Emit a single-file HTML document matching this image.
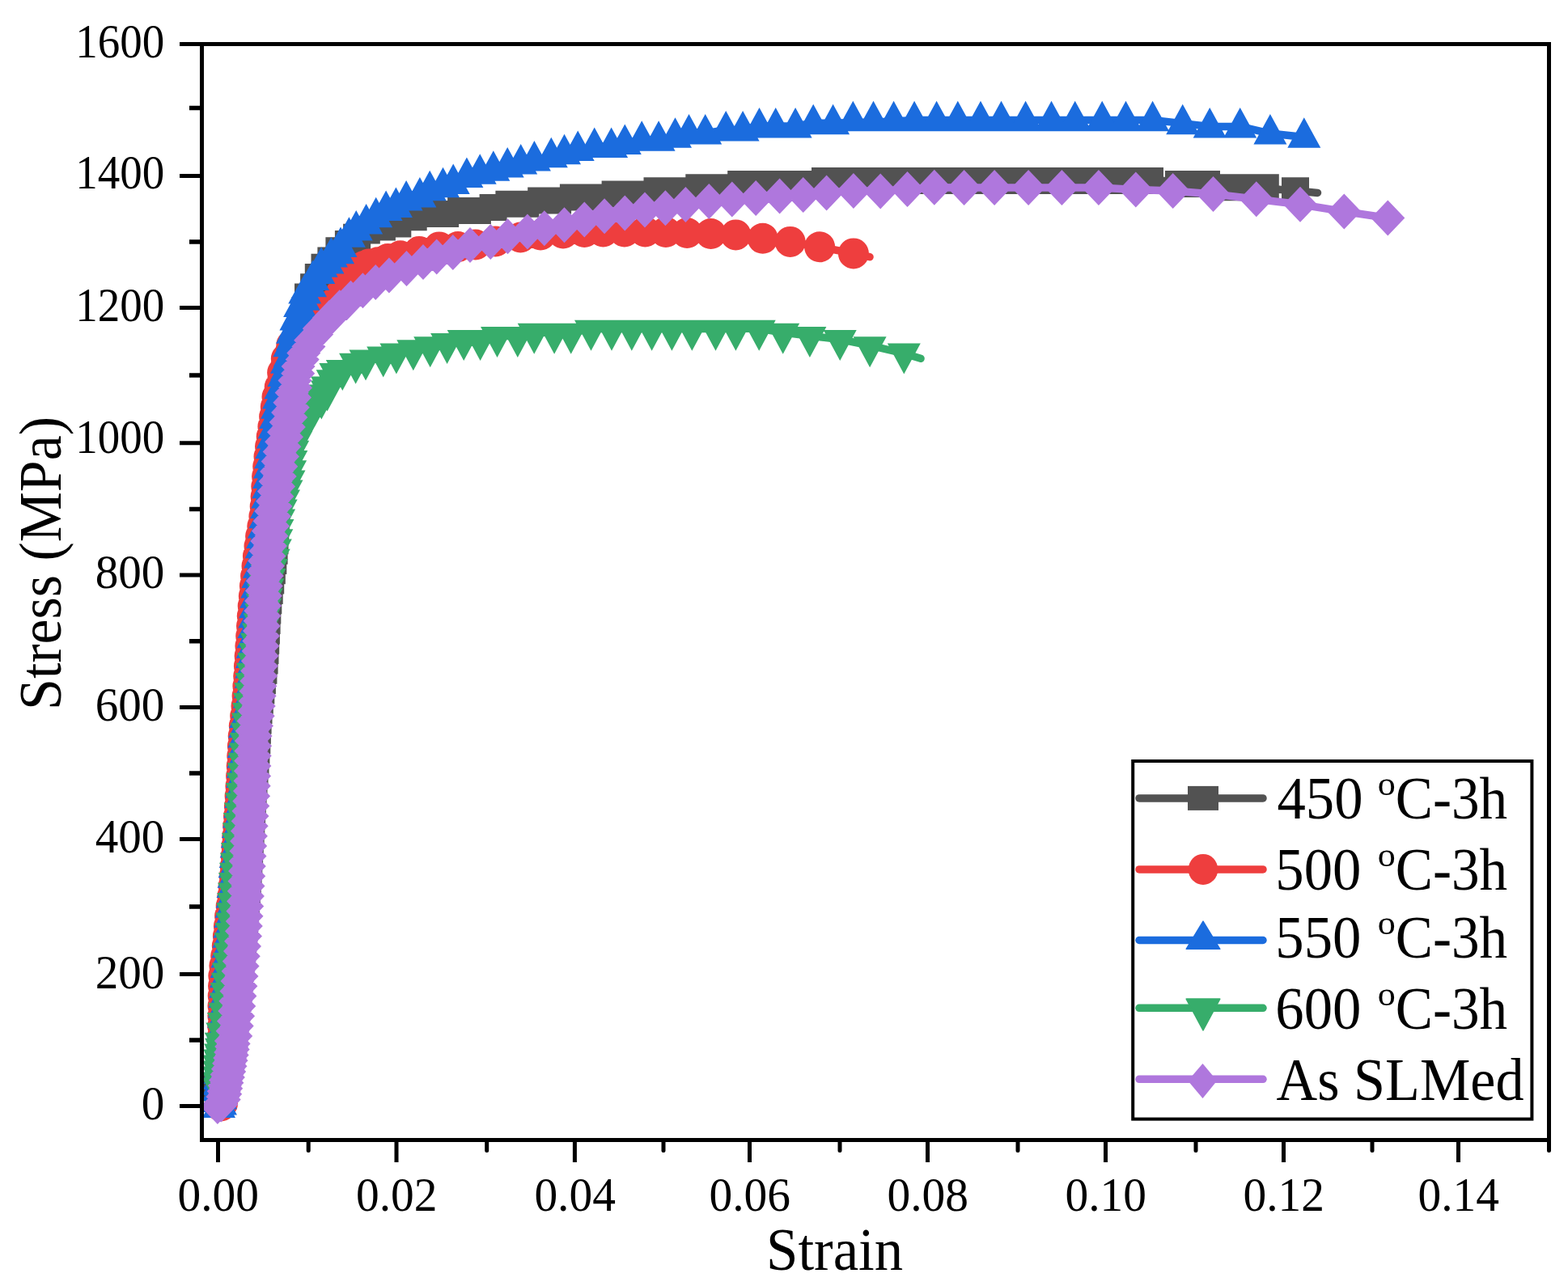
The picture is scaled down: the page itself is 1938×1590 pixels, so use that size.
<!DOCTYPE html>
<html><head><meta charset="utf-8"><title>Stress-strain curves</title>
<style>html,body{margin:0;padding:0;background:#fff;width:1938px;height:1590px;overflow:hidden}svg{display:block}</style>
</head><body>
<svg width="1938" height="1590" viewBox="0 0 1938 1590" font-family="'Liberation Serif','Times New Roman',serif" fill="#000">
<rect width="1938" height="1590" fill="#fff"/>
<g stroke-linejoin="round" stroke-linecap="round">
<path d="M271,1345L271.4,1343L271.8,1341.1L272.2,1339.1L272.6,1337.1L273,1335.2L273.4,1333.2L273.7,1331.3L274.1,1329.3L274.5,1327.3L274.9,1325.4L275.3,1323.4L275.7,1321.4L276.1,1319.5L276.5,1317.5L276.9,1315.5L277.3,1313.6L277.7,1311.6L278.1,1309.7L278.5,1307.7L279,1305.7L279.4,1303.8L279.8,1301.8L280.2,1299.8L280.5,1297.9L280.9,1295.9L281.3,1293.9L281.7,1292L282,1290L282.3,1288L282.7,1286.1L283,1284.1L283.3,1282.1L283.6,1280.1L283.9,1278.2L284.3,1276.2L284.6,1274.2L284.9,1272.2L285.2,1270.2L285.5,1268.2L285.7,1266.3L286,1264.3L286.3,1262.3L286.6,1260.3L286.9,1258.3L287.1,1256.3L287.4,1254.4L287.7,1252.4L287.9,1250.4L288.2,1248.4L288.5,1246.4L288.7,1244.4L289,1242.4L289.2,1240.5L289.5,1238.5L289.8,1236.5L290,1234.5L290.2,1232.5L290.5,1230.5L290.7,1228.5L291,1226.5L291.2,1224.6L291.4,1222.6L291.7,1220.6L291.9,1218.6L292.1,1216.6L292.4,1214.6L292.6,1212.6L292.8,1210.6L293,1208.6L293.3,1206.6L293.5,1204.7L293.7,1202.7L293.9,1200.7L294.1,1198.7L294.4,1196.7L294.6,1194.7L294.8,1192.7L295,1190.7L295.2,1188.7L295.4,1186.7L295.6,1184.7L295.8,1182.8L296,1180.8L296.2,1178.8L296.4,1176.8L296.6,1174.8L296.8,1172.8L297,1170.8L297.2,1168.8L297.4,1166.8L297.6,1164.8L297.8,1162.8L298,1160.8L298.2,1158.8L298.4,1156.8L298.6,1154.8L298.7,1152.8L298.9,1150.9L299.1,1148.9L299.3,1146.9L299.5,1144.9L299.6,1142.9L299.8,1140.9L300,1138.9L300.1,1136.9L300.3,1134.9L300.5,1132.9L300.6,1130.9L300.8,1128.9L301,1126.9L301.1,1124.9L301.3,1122.9L301.4,1120.9L301.6,1118.9L301.7,1116.9L301.9,1114.9L302.1,1112.9L302.2,1110.9L302.4,1108.9L302.5,1106.9L302.6,1104.9L302.8,1102.9L302.9,1100.9L303.1,1098.9L303.2,1096.9L303.4,1094.9L303.5,1092.9L303.6,1090.9L303.8,1088.9L303.9,1087L304,1085L304.2,1083L304.3,1081L304.4,1079L304.5,1077L304.7,1075L304.8,1073L304.9,1071L305,1069L305.2,1067L305.3,1065L305.4,1063L305.5,1061L305.7,1059L305.8,1057L305.9,1055L306,1053L306.1,1051L306.3,1049L306.4,1047L306.5,1045L306.6,1043L306.8,1041L306.9,1039L307,1037L307.1,1035L307.2,1033L307.4,1031L307.5,1029L307.6,1027L307.7,1025L307.9,1023L308,1021L308.1,1019L308.2,1017L308.3,1015L308.4,1013L308.6,1011L308.7,1009L308.8,1007L308.9,1005L309,1003L309.2,1001L309.3,999L309.4,997L309.5,995L309.6,993L309.8,991L309.9,989L310,987L310.1,985L310.3,983L310.4,981L310.5,979L310.7,977L310.8,975L310.9,973L311.1,971L311.2,969L311.4,967L311.5,965L311.7,963L311.8,961L312,959L312.1,957L312.3,955L312.4,953L312.6,951L312.8,949L312.9,947L313.1,945L313.3,943L313.4,941L313.6,939.1L313.8,937.1L313.9,935.1L314.1,933.1L314.2,931.1L314.4,929.1L314.5,927.1L314.7,925.1L314.8,923.1L314.9,921.1L315.1,919.1L315.2,917.1L315.3,915.1L315.4,913.1L315.5,911.1L315.6,909.1L315.7,907.1L315.8,905.1L315.9,903.1L316,901.1L316.1,899.1L316.2,897.1L316.4,895.1L316.5,893.1L316.6,891.1L316.7,889.1L316.8,887.1L317,885.1L317.1,883.1L317.3,881.1L317.5,879.1L317.7,877.1L317.8,875.1L318,873.1L318.3,871.1L318.5,869.1L318.7,867.1L318.9,865.2L319.2,863.2L319.4,861.2L319.7,859.2L319.9,857.2L320.2,855.2L320.4,853.2L320.7,851.2L321,849.2L321.2,847.3L321.5,845.3L321.7,843.3L322,841.3L322.2,839.3L322.5,837.3L322.7,835.3L323,833.3L323.2,831.3L323.4,829.4L323.6,827.4L323.8,825.4L324,823.4L324.2,821.4L324.4,819.4L324.6,817.4L324.7,815.4L324.9,813.4L325,811.4L325.2,809.4L325.3,807.4L325.4,805.4L325.6,803.4L325.7,801.4L325.8,799.4L325.9,797.4L326,795.4L326.1,793.4L326.3,791.4L326.4,789.4L326.5,787.4L326.6,785.4L326.7,783.4L326.8,781.4L326.9,779.4L327,777.4L327.1,775.4L327.2,773.4L327.3,771.4L327.4,769.4L327.6,767.4L327.7,765.4L327.8,763.4L327.9,761.4L328.1,759.4L328.2,757.4L328.3,755.4L328.5,753.4L328.6,751.4L328.8,749.4L328.9,747.4L329.1,745.4L329.3,743.4L329.5,741.5L329.7,739.5L329.9,737.5L330.1,735.5L330.3,733.5L330.5,731.5L330.8,729.5L331,727.5L331.3,725.5L331.5,723.5L331.8,721.6L332,719.6L332.3,717.6L332.5,715.6L332.8,713.6L333,711.6L333.3,709.6L333.6,707.6L333.8,705.6L334.1,703.7L334.3,701.7L334.6,699.7L334.8,697.7L335,695.7L335.3,693.7L335.5,691.7L335.7,689.7L335.9,687.7L336.2,685.7L336.4,683.8L336.5,681.8L336.7,679.8L336.9,677.8L337.1,675.8L337.2,673.8L337.3,671.8L337.5,669.8L337.6,667.8L337.7,665.8L337.8,663.8L338,661.8L338.1,659.8L338.2,657.8L338.3,655.8L338.4,653.8L338.4,651.8L338.5,649.8L338.6,647.8L338.7,645.8L338.8,643.8L338.9,641.8L339,639.8L339.1,637.8L339.2,635.8L339.3,633.8L339.4,631.8L339.5,629.8L339.6,627.8L339.7,625.8L339.8,623.8L339.9,621.8L340,619.8L340.1,617.8L340.3,615.8L340.4,613.8L340.5,611.8L340.7,609.8L340.8,607.8L340.9,605.8L341.1,603.8L341.2,601.8L341.4,599.8L341.5,597.8L341.7,595.8L341.8,593.8L342,591.8L342.2,589.8L342.3,587.8L342.5,585.8L342.7,583.8L342.8,581.8L343,579.8L343.2,577.8L343.4,575.8L343.6,573.9L343.8,571.9L344,569.9L344.1,567.9L344.3,565.9L344.6,563.9L344.8,561.9L345,559.9L345.2,557.9L345.4,555.9L345.6,553.9L345.8,551.9L346.1,549.9L346.3,547.9L346.5,545.9L346.8,544L347,542L347.3,540L347.5,538L347.8,536L348,534L348.3,532L348.6,530L348.8,528.1L349.1,526.1L349.4,524.1L349.7,522.1L350,520.1L350.3,518.2L350.6,516.2L350.9,514.2L351.3,512.3L351.6,510.3L352,508.3L352.4,506.4L352.7,504.4L353.1,502.4L353.5,500.5L353.9,498.5L354.4,496.5L354.8,494.6L355.2,492.6L355.6,490.7L356,488.7L356.5,486.7L356.9,484.8L357.3,482.8L357.7,480.9L358.2,478.9L358.6,476.9L359,475L359.4,473L359.8,471L360.2,469.1L360.6,467.1L361,465.2L361.4,463.2L361.8,461.2L362.1,459.3L362.5,457.3L362.9,455.3L363.3,453.4L363.7,451.4L364.1,449.4L364.5,447.5L364.9,445.5L365.3,443.5L365.7,441.6L366.1,439.6L366.5,437.7L366.9,435.7L367.2,433.7L367.6,431.8L368,429.8L368.4,427.8L368.8,425.9L369.2,423.9L369.6,421.9L370,420L370.4,418L370.8,416.1L371.2,414.1L371.5,412.1L371.9,410.1L372.3,408.2L372.7,406.2L373,404.2L373.4,402.3L373.8,400.3L374.2,398.3L374.5,396.4L374.9,394.4L375.3,392.4L375.7,390.5L376.1,388.5L376.5,386.5L377,384.6L377.4,382.6L377.9,380.7L378.3,378.7L378.8,376.8L379.3,374.8L379.7,372.9L380.3,370.9L380.8,369L381.4,367.1L382.1,365.3L383,363.5L384.1,361.8L385.2,360.2L386.5,358.6L387.7,356.9L388.9,355.3L389.9,353.6L390.8,351.8L391.6,350L392.3,348.1L392.9,346.1L393.6,344.2L394.3,342.4L395.2,340.6L396.2,338.9L397.3,337.3L398.5,335.7L399.8,334.1L401.1,332.6L402.4,331L403.7,329.5L404.9,327.9L406,326.2L407.1,324.5L408.2,322.7L409.2,320.9L410.3,319.2L411.5,317.6L412.7,316.1L414.1,314.8L415.6,313.6L417.2,312.5L418.9,311.4L420.7,310.4L422.5,309.4L424.2,308.3L425.9,307.2L427.5,306L429.1,304.8L430.7,303.4L432.2,302.1L433.7,300.7L435.2,299.2L436.6,297.8L438.1,296.4L439.6,295L441.1,293.6L442.6,292.3L444.2,291L445.7,289.8L447.3,288.7L449,287.7L450.7,286.9L452.5,286.1L454.3,285.4L456.2,284.8L458.2,284.2L460.1,283.6L462.1,283L464,282.5L465.9,281.9L467.8,281.4L469.8,280.8L471.7,280.3L473.6,279.8L475.6,279.3L477.5,278.7L479.4,278.2L481.4,277.7L483.3,277.2L485.3,276.7L487.2,276.3L489.2,275.8L491.1,275.3L493,274.8L495,274.3L496.9,273.9L498.9,273.4L500.8,272.9L502.8,272.4L504.7,271.9L506.7,271.5L508.6,271L510.6,270.5L512.5,270.1L514.5,269.6L516.4,269.2L518.4,268.8L520.3,268.4L522.3,268L524.3,267.6L526.2,267.2L528.2,266.8L530.2,266.4L532.1,266.1L534.1,265.8L536.1,265.5L538.1,265.2L540.1,265L542.1,264.7L544,264.5L546,264.3L548,264.1L550,263.9L552,263.7L554,263.5L556,263.4L558,263.2L560,263L562,262.8L564,262.7L566,262.5L568,262.4L570,262.2L572,262.1L574,261.9L576,261.8L578,261.6L580,261.4L582,261.2L584,261L585.9,260.7L587.9,260.4L589.9,260L591.8,259.5L593.8,259.1L595.7,258.6L597.7,258.2L599.7,257.8L601.6,257.4L603.6,257.1L605.6,256.8L607.6,256.5L609.6,256.3L611.5,256.1L613.5,255.9L615.5,255.7L617.5,255.5L619.5,255.3L621.5,255.1L623.5,254.8L625.5,254.5L627.5,254.3L629.5,254L631.4,253.7L633.4,253.4L635.4,253.1L637.4,252.9L639.4,252.6L641.4,252.4L643.4,252.2L645.3,252L647.3,251.8L649.3,251.6L651.3,251.4L653.3,251.2L655.3,251.1L657.3,250.9L659.3,250.8L661.3,250.6L663.3,250.5L665.3,250.3L667.3,250.2L669.3,250L671.3,249.9L673.3,249.7L675.3,249.5L677.3,249.3L679.3,249.2L681.3,249L683.3,248.7L685.3,248.5L687.2,248.3L689.2,248L691.2,247.8L693.2,247.5L695.2,247.2L697.2,246.9L699.1,246.6L701.1,246.3L703.1,246L705.1,245.7L707.1,245.4L709.1,245.1L711,244.8L713,244.6L715,244.3L717,244L719,243.8L721,243.6L723,243.4L725,243.1L726.9,242.9L728.9,242.7L730.9,242.5L732.9,242.3L734.9,242.1L736.9,241.9L738.9,241.8L740.9,241.6L742.9,241.4L744.9,241.2L746.9,241L748.9,240.9L750.9,240.7L752.9,240.5L754.9,240.3L756.9,240.2L758.9,240L760.9,239.9L762.9,239.7L764.9,239.6L766.9,239.4L768.8,239.3L770.8,239.1L772.8,239L774.8,238.9L776.8,238.7L778.8,238.6L780.8,238.5L782.8,238.3L784.8,238.2L786.8,238.1L788.8,238L790.8,237.9L792.8,237.7L794.8,237.6L796.8,237.5L798.8,237.4L800.8,237.3L802.8,237.1L804.8,237L806.8,236.9L808.8,236.7L810.8,236.6L812.8,236.5L814.8,236.3L816.8,236.2L818.8,236.1L820.8,235.9L822.8,235.8L824.8,235.6L826.8,235.4L828.8,235.3L830.8,235.1L832.8,234.9L834.8,234.7L836.8,234.5L838.8,234.3L840.8,234.1L842.8,233.9L844.8,233.7L846.7,233.5L848.7,233.3L850.7,233.1L852.7,232.9L854.7,232.7L856.7,232.5L858.7,232.4L860.7,232.2L862.7,232.1L864.7,231.9L866.7,231.8L868.7,231.6L870.7,231.5L872.7,231.4L874.7,231.3L876.7,231.2L878.7,231.1L880.7,231L882.7,230.9L884.7,230.8L886.7,230.7L888.7,230.6L890.7,230.5L892.7,230.4L894.7,230.3L896.7,230.2L898.7,230.1L900.7,230L902.7,229.8L904.7,229.7L906.7,229.5L908.7,229.3L910.7,229.2L912.7,229L914.7,228.8L916.7,228.6L918.7,228.5L920.7,228.3L922.7,228.1L924.7,228L926.7,227.8L928.7,227.7L930.7,227.6L932.7,227.6L934.7,227.5L936.7,227.5L938.7,227.4L940.7,227.4L942.7,227.4L944.7,227.4L946.7,227.4L948.7,227.3L950.7,227.3L952.7,227.3L954.7,227.3L956.7,227.3L958.7,227.3L960.7,227.3L962.7,227.2L964.7,227.2L966.7,227.2L968.7,227.2L970.7,227.2L972.7,227.2L974.7,227.2L976.7,227.2L978.7,227.1L980.7,227.1L982.7,227.1L984.7,227.1L986.7,227L988.7,227L990.7,227L992.7,226.9L994.7,226.8L996.7,226.7L998.7,226.6L1000.7,226.4L1002.7,226.2L1004.7,226L1006.7,225.8L1008.7,225.6L1010.7,225.4L1012.7,225.2L1014.7,225L1016.7,224.8L1018.7,224.5L1020.7,224.3L1022.7,224.2L1024.7,224L1026.7,223.8L1028.7,223.7L1030.7,223.6L1032.7,223.5L1034.7,223.5L1036.7,223.5L1038.7,223.5L1040.7,223.5L1042.7,223.5L1044.7,223.5L1046.7,223.5L1048.7,223.5L1050.7,223.5L1052.7,223.5L1054.7,223.5L1056.7,223.5L1058.7,223.5L1060.7,223.5L1062.7,223.5L1064.7,223.5L1066.7,223.5L1068.7,223.5L1070.7,223.5L1072.7,223.5L1074.7,223.5L1076.7,223.5L1078.7,223.5L1080.7,223.5L1082.7,223.5L1084.7,223.5L1086.7,223.5L1088.7,223.5L1090.7,223.5L1092.7,223.5L1094.7,223.5L1096.7,223.5L1098.7,223.5L1100.7,223.5L1102.7,223.5L1104.7,223.5L1106.7,223.5L1108.7,223.5L1110.8,223.5L1112.8,223.5L1114.8,223.5L1116.8,223.5L1118.8,223.5L1120.8,223.5L1122.8,223.5L1124.8,223.5L1126.8,223.5L1128.8,223.5L1130.8,223.5L1132.8,223.5L1134.8,223.5L1136.8,223.5L1138.8,223.5L1140.8,223.5L1142.8,223.5L1144.8,223.5L1146.8,223.5L1148.8,223.5L1150.8,223.5L1152.8,223.5L1154.8,223.5L1156.8,223.5L1158.8,223.5L1160.9,223.5L1162.9,223.5L1164.9,223.5L1166.9,223.5L1168.9,223.5L1170.9,223.5L1172.9,223.5L1174.9,223.5L1176.9,223.5L1178.9,223.5L1180.9,223.5L1182.9,223.5L1184.9,223.5L1186.9,223.5L1188.9,223.5L1190.9,223.5L1192.9,223.5L1194.9,223.5L1196.9,223.5L1198.9,223.5L1200.9,223.5L1202.9,223.5L1204.9,223.5L1206.9,223.5L1208.9,223.5L1210.9,223.5L1212.9,223.5L1214.9,223.5L1217,223.5L1219,223.5L1221,223.5L1223,223.5L1225,223.5L1227,223.5L1229,223.5L1231,223.5L1233,223.5L1235,223.5L1237,223.5L1239,223.5L1241,223.5L1243,223.5L1245,223.5L1247,223.5L1249,223.5L1251,223.5L1253,223.5L1255,223.5L1257.1,223.5L1259.1,223.5L1261.1,223.5L1263.1,223.5L1265.1,223.5L1267.1,223.5L1269.1,223.5L1271.1,223.5L1273.1,223.5L1275.1,223.5L1277.1,223.5L1279.1,223.5L1281.1,223.5L1283.1,223.5L1285.1,223.5L1287.1,223.5L1289.1,223.5L1291.2,223.5L1293.2,223.5L1295.2,223.5L1297.2,223.5L1299.2,223.5L1301.2,223.5L1303.2,223.5L1305.2,223.5L1307.2,223.5L1309.2,223.5L1311.2,223.5L1313.2,223.5L1315.2,223.5L1317.2,223.5L1319.2,223.5L1321.2,223.5L1323.2,223.5L1325.2,223.5L1327.3,223.5L1329.3,223.5L1331.3,223.5L1333.3,223.5L1335.3,223.5L1337.3,223.5L1339.3,223.5L1341.3,223.5L1343.3,223.5L1345.3,223.5L1347.3,223.5L1349.3,223.5L1351.3,223.5L1353.3,223.5L1355.3,223.5L1357.3,223.5L1359.3,223.5L1361.3,223.5L1363.3,223.5L1365.3,223.5L1367.3,223.5L1369.3,223.5L1371.3,223.5L1373.3,223.5L1375.3,223.5L1377.3,223.5L1379.3,223.5L1381.3,223.5L1383.3,223.5L1385.3,223.5L1387.3,223.5L1389.3,223.5L1391.3,223.5L1393.3,223.5L1395.3,223.5L1397.3,223.5L1399.3,223.5L1401.3,223.5L1403.3,223.5L1405.3,223.5L1407.3,223.5L1409.3,223.5L1411.3,223.5L1413.3,223.5L1415.3,223.5L1417.3,223.5L1419.3,223.5L1421.3,223.5L1423.3,223.5L1425.3,223.5L1427.3,223.5L1429.3,223.5L1431.3,223.5L1433.3,223.5L1435.3,223.5L1437.3,223.5L1439.3,223.5L1441.3,223.5L1443.3,223.6L1445.3,223.7L1447.2,223.9L1449.2,224.1L1451.2,224.3L1453.2,224.6L1455.2,224.9L1457.2,225.2L1459.2,225.5L1461.2,225.8L1463.1,226.2L1465.1,226.5L1467.1,226.8L1469.1,227.1L1471.1,227.3L1473.1,227.5L1475.1,227.7L1477.1,227.9L1479.1,228L1481.1,228.2L1483.1,228.3L1485.1,228.4L1487.1,228.6L1489,228.7L1491,228.8L1493,228.9L1495,229.1L1497,229.2L1499,229.3L1501,229.4L1503,229.5L1505,229.6L1507,229.7L1509,229.8L1511.1,229.9L1513.1,230L1515.1,230.1L1517.1,230.2L1519.1,230.3L1521.1,230.4L1523.1,230.5L1525.1,230.6L1527.1,230.7L1529.1,230.8L1531.1,230.9L1533.1,231L1535.1,231.1L1537.1,231.2L1539.1,231.3L1541.1,231.5L1543.1,231.6L1545.1,231.7L1547.1,231.8L1549.1,232L1551.1,232.1L1553.1,232.2L1555.1,232.4L1557.1,232.5L1559.1,232.6L1561.1,232.8L1563.1,232.9L1565,233.1L1567,233.2L1569,233.3L1571,233.5L1573,233.6L1575,233.8L1577,233.9L1579,234.1L1581,234.2L1583,234.4L1585,234.5L1587,234.7L1589,234.9L1591,235L1593,235.2L1595,235.3L1597,235.5L1599,235.6L1601,235.8L1628.5,238.4" fill="none" stroke="#525252" stroke-width="9.5"/>
<path d="M252,1328.5h34v33h-34zM256.8,1324.6h34v33h-34zM253.6,1320.7h34v33h-34zM258.4,1316.7h34v33h-34zM255.1,1312.8h34v33h-34zM259.9,1308.9h34v33h-34zM256.7,1305h34v33h-34zM261.5,1301h34v33h-34zM258.3,1297.1h34v33h-34zM263.1,1293.2h34v33h-34zM259.9,1289.3h34v33h-34zM264.7,1285.4h34v33h-34zM261.5,1281.5h34v33h-34zM266.3,1277.5h34v33h-34zM263,1273.6h34v33h-34zM267.7,1269.6h34v33h-34zM264.7,1263.5h34v33h-34zM269.6,1257.4h34v33h-34zM266.5,1251.3h34v33h-34zM271.4,1245.1h34v33h-34zM268.3,1239h34v33h-34zM273.1,1232.8h34v33h-34zM269.9,1226.7h34v33h-34zM274.7,1220.5h34v33h-34zM271.4,1214.4h34v33h-34zM276.2,1208.2h34v33h-34zM272.9,1202.1h34v33h-34zM277.6,1195.9h34v33h-34zM274.3,1189.8h34v33h-34zM279,1183.6h34v33h-34zM275.7,1177.4h34v33h-34zM280.3,1171.3h34v33h-34zM277,1165.1h34v33h-34zM281.6,1158.9h34v33h-34zM278.2,1152.8h34v33h-34zM282.8,1146.6h34v33h-34zM279.4,1140.4h34v33h-34zM283.9,1134.2h34v33h-34zM280.5,1128.1h34v33h-34zM285,1121.9h34v33h-34zM281.5,1115.7h34v33h-34zM286,1109.5h34v33h-34zM282.5,1103.4h34v33h-34zM287,1097.2h34v33h-34zM283.5,1091h34v33h-34zM287.9,1084.8h34v33h-34zM284.3,1078.6h34v33h-34zM288.8,1072.4h34v33h-34zM285.2,1066.3h34v33h-34zM289.6,1060.1h34v33h-34zM286,1053.9h34v33h-34zM290.3,1047.7h34v33h-34zM286.7,1041.5h34v33h-34zM291.1,1035.3h34v33h-34zM287.5,1029.1h34v33h-34zM291.8,1022.9h34v33h-34zM288.2,1016.7h34v33h-34zM292.6,1010.6h34v33h-34zM289,1004.4h34v33h-34zM293.3,998.2h34v33h-34zM289.7,992h34v33h-34zM294.1,985.8h34v33h-34zM290.5,979.6h34v33h-34zM294.8,973.4h34v33h-34zM291.2,967.2h34v33h-34zM295.6,961h34v33h-34zM292,954.9h34v33h-34zM296.5,948.7h34v33h-34zM293,942.5h34v33h-34zM297.5,936.3h34v33h-34zM294,930.1h34v33h-34zM298.5,924h34v33h-34zM295,917.8h34v33h-34zM299.4,911.6h34v33h-34zM295.9,905.4h34v33h-34zM300.3,899.2h34v33h-34zM296.6,893h34v33h-34zM300.9,886.8h34v33h-34zM297.2,880.6h34v33h-34zM301.6,874.5h34v33h-34zM298,868.3h34v33h-34zM302.5,862.1h34v33h-34zM299.1,855.9h34v33h-34zM303.8,849.8h34v33h-34zM300.6,843.6h34v33h-34zM305.3,837.5h34v33h-34zM302.1,831.3h34v33h-34zM306.9,825.2h34v33h-34zM303.7,819h34v33h-34zM308.4,812.8h34v33h-34zM305.1,806.7h34v33h-34zM309.6,800.5h34v33h-34zM306.1,794.3h34v33h-34zM310.5,788.1h34v33h-34zM306.9,781.9h34v33h-34zM311.2,775.8h34v33h-34zM307.5,769.6h34v33h-34zM311.9,763.4h34v33h-34zM308.2,757.2h34v33h-34zM312.6,751h34v33h-34zM308.9,744.8h34v33h-34zM313.3,738.6h34v33h-34zM309.8,732.4h34v33h-34zM314.3,726.3h34v33h-34zM311,720.1h34v33h-34zM315.7,713.9h34v33h-34zM312.4,707.8h34v33h-34zM317.2,701.6h34v33h-34zM314,695.5h34v33h-34zM318.8,689.3h34v33h-34zM315.6,683.2h34v33h-34zM320.3,677h34v33h-34zM317,670.9h34v33h-34zM321.6,664.7h34v33h-34zM318.1,658.5h34v33h-34zM322.5,652.3h34v33h-34zM318.9,646.1h34v33h-34zM323.2,639.9h34v33h-34zM319.5,633.8h34v33h-34zM323.8,627.6h34v33h-34zM320.1,621.4h34v33h-34zM324.4,615.2h34v33h-34zM320.7,609h34v33h-34zM325,602.8h34v33h-34zM321.4,596.6h34v33h-34zM325.9,590.4h34v33h-34zM322.3,584.2h34v33h-34zM326.8,578.1h34v33h-34zM323.3,571.9h34v33h-34zM327.8,565.7h34v33h-34zM324.4,559.5h34v33h-34zM329,553.3h34v33h-34zM325.6,547.2h34v33h-34zM330.2,541h34v33h-34zM326.9,534.9h34v33h-34zM331.6,528.7h34v33h-34zM328.4,522.5h34v33h-34zM333.2,516.4h34v33h-34zM330,510.2h34v33h-34zM334.9,504.1h34v33h-34zM331.9,498h34v33h-34zM337,491.9h34v33h-34zM334.2,485.8h34v33h-34zM337.4,479.7h34v33h-34zM338.7,473.7h34v33h-34zM340,467.6h34v33h-34zM341.3,461.4h34v33h-34zM344.1,449.1h34v33h-34zM346.9,432.7h34v33h-34zM349.6,420.4h34v33h-34zM352.4,408.1h34v33h-34zM355.1,391.7h34v33h-34zM357.7,379.4h34v33h-34zM360.6,367h34v33h-34zM364,350.6h34v33h-34zM371.1,338.3h34v33h-34zM376.8,326h34v33h-34zM384.5,313.7h34v33h-34zM392.4,305.5h34v33h-34zM402.4,293.2h34v33h-34zM413.9,285h34v33h-34zM424.1,276.8h34v33h-34zM435.8,268.6h34v33h-34zM454.9,264.5h34v33h-34zM474.3,260.4h34v33h-34zM493.7,252.2h34v33h-34zM513.3,248.1h34v33h-34zM533.1,248.1h34v33h-34zM553.1,244h34v33h-34zM572.9,244h34v33h-34zM592.6,239.9h34v33h-34zM612.4,235.7h34v33h-34zM632.3,235.7h34v33h-34zM652.2,231.6h34v33h-34zM672.1,231.6h34v33h-34zM691.9,227.5h34v33h-34zM717.7,227.5h34v33h-34zM743.6,223.4h34v33h-34zM769.6,223.4h34v33h-34zM795.5,219.3h34v33h-34zM821.4,219.3h34v33h-34zM847.3,215.2h34v33h-34zM873.3,215.2h34v33h-34zM899.2,211.1h34v33h-34zM925.2,211.1h34v33h-34zM951.2,211.1h34v33h-34zM977.2,211.1h34v33h-34zM1003,207h34v33h-34zM1036,207h34v33h-34zM1069,207h34v33h-34zM1102,207h34v33h-34zM1135,207h34v33h-34zM1168,207h34v33h-34zM1201,207h34v33h-34zM1234,207h34v33h-34zM1267,207h34v33h-34zM1273,207h34v33h-34zM1302,207h34v33h-34zM1336,207h34v33h-34zM1370,207h34v33h-34zM1404,207h34v33h-34zM1440,211.1h34v33h-34zM1474,211.1h34v33h-34zM1508,215.2h34v33h-34zM1530,215.2h34v33h-34zM1546.8,215.2h34v33h-34zM1584,219.3h34v33h-34z" fill="#525252" stroke="none"/>
<path d="M274,1367.5L274.1,1365.5L274.1,1363.5L274.2,1361.5L274.3,1359.5L274.4,1357.5L274.4,1355.5L274.5,1353.5L274.6,1351.5L274.6,1349.5L274.7,1347.5L274.8,1345.5L274.9,1343.5L274.9,1341.4L275,1339.4L275.1,1337.4L275.2,1335.4L275.3,1333.4L275.3,1331.4L275.4,1329.4L275.5,1327.4L275.6,1325.4L275.7,1323.4L275.8,1321.4L275.9,1319.4L276,1317.4L276.1,1315.4L276.1,1313.4L276.2,1311.4L276.3,1309.4L276.4,1307.4L276.5,1305.4L276.6,1303.4L276.6,1301.4L276.7,1299.4L276.8,1297.4L276.8,1295.4L276.9,1293.4L277,1291.4L277,1289.4L277.1,1287.3L277.1,1285.3L277.2,1283.3L277.2,1281.3L277.2,1279.3L277.3,1277.3L277.3,1275.3L277.3,1273.3L277.4,1271.3L277.4,1269.3L277.4,1267.3L277.5,1265.3L277.5,1263.3L277.5,1261.3L277.5,1259.3L277.6,1257.2L277.6,1255.2L277.6,1253.2L277.6,1251.2L277.7,1249.2L277.7,1247.2L277.7,1245.2L277.7,1243.2L277.8,1241.2L277.8,1239.2L277.8,1237.2L277.9,1235.2L277.9,1233.2L277.9,1231.2L278,1229.2L278,1227.1L278,1225.1L278.1,1223.1L278.1,1221.1L278.2,1219.1L278.2,1217.1L278.3,1215.1L278.3,1213.1L278.4,1211.1L278.5,1209.1L278.5,1207.1L278.6,1205.1L278.7,1203.2L278.8,1201.2L279,1199.2L279.2,1197.2L279.4,1195.2L279.7,1193.2L280,1191.2L280.3,1189.2L280.6,1187.2L280.9,1185.2L281.2,1183.3L281.5,1181.3L281.8,1179.3L282.1,1177.3L282.4,1175.3L282.6,1173.3L282.9,1171.3L283.1,1169.3L283.3,1167.3L283.4,1165.3L283.6,1163.3L283.8,1161.3L284,1159.3L284.1,1157.3L284.3,1155.3L284.4,1153.3L284.6,1151.3L284.7,1149.3L284.9,1147.3L285.1,1145.3L285.2,1143.3L285.4,1141.4L285.6,1139.4L285.8,1137.4L286,1135.4L286.2,1133.4L286.4,1131.4L286.6,1129.4L286.9,1127.4L287.2,1125.4L287.4,1123.4L287.7,1121.4L288,1119.5L288.3,1117.5L288.6,1115.5L288.8,1113.5L289.1,1111.5L289.4,1109.5L289.6,1107.5L289.8,1105.5L290,1103.5L290.2,1101.5L290.4,1099.6L290.6,1097.6L290.8,1095.6L291,1093.6L291.2,1091.6L291.4,1089.6L291.5,1087.6L291.7,1085.6L291.9,1083.6L292,1081.6L292.2,1079.6L292.4,1077.6L292.5,1075.6L292.7,1073.6L292.8,1071.6L293,1069.6L293.1,1067.6L293.3,1065.6L293.4,1063.6L293.6,1061.6L293.7,1059.6L293.8,1057.6L294,1055.6L294.1,1053.6L294.3,1051.6L294.4,1049.6L294.5,1047.6L294.7,1045.6L294.8,1043.6L295,1041.6L295.1,1039.6L295.3,1037.6L295.4,1035.6L295.5,1033.6L295.7,1031.6L295.8,1029.6L296,1027.6L296.1,1025.6L296.3,1023.6L296.4,1021.6L296.5,1019.6L296.7,1017.6L296.8,1015.6L296.9,1013.6L297.1,1011.6L297.2,1009.6L297.3,1007.6L297.5,1005.6L297.6,1003.6L297.7,1001.6L297.9,999.6L298,997.6L298.1,995.6L298.3,993.6L298.4,991.6L298.5,989.6L298.6,987.6L298.8,985.6L298.9,983.6L299,981.6L299.1,979.6L299.3,977.5L299.4,975.5L299.5,973.5L299.6,971.5L299.7,969.5L299.9,967.5L300,965.5L300.1,963.5L300.2,961.5L300.3,959.5L300.4,957.5L300.5,955.5L300.6,953.5L300.7,951.5L300.8,949.5L300.9,947.5L301,945.5L301.1,943.5L301.2,941.5L301.3,939.5L301.4,937.5L301.5,935.5L301.6,933.5L301.7,931.5L301.8,929.5L301.9,927.5L302,925.5L302.1,923.5L302.2,921.5L302.3,919.5L302.4,917.5L302.6,915.5L302.7,913.5L302.8,911.5L303,909.5L303.1,907.5L303.2,905.5L303.4,903.5L303.6,901.5L303.8,899.5L304,897.5L304.2,895.5L304.4,893.5L304.6,891.5L304.9,889.5L305.1,887.5L305.3,885.5L305.6,883.5L305.8,881.5L306,879.6L306.3,877.6L306.5,875.6L306.7,873.6L306.9,871.6L307.1,869.6L307.2,867.6L307.4,865.6L307.5,863.6L307.7,861.6L307.8,859.6L308,857.6L308.1,855.6L308.3,853.6L308.4,851.6L308.5,849.6L308.7,847.6L308.8,845.6L308.9,843.6L309,841.6L309.1,839.6L309.3,837.6L309.4,835.6L309.5,833.6L309.6,831.6L309.7,829.6L309.8,827.6L310,825.6L310.1,823.6L310.2,821.6L310.3,819.6L310.4,817.6L310.5,815.6L310.7,813.5L310.8,811.5L310.9,809.5L311,807.5L311.1,805.5L311.3,803.5L311.4,801.5L311.5,799.5L311.7,797.5L311.8,795.5L311.9,793.5L312.1,791.5L312.2,789.5L312.3,787.5L312.4,785.5L312.6,783.5L312.7,781.5L312.8,779.5L313,777.5L313.1,775.5L313.2,773.5L313.4,771.5L313.5,769.5L313.6,767.5L313.8,765.5L313.9,763.5L314,761.5L314.2,759.5L314.3,757.5L314.5,755.5L314.6,753.5L314.8,751.5L314.9,749.5L315.1,747.5L315.2,745.5L315.4,743.5L315.6,741.5L315.7,739.5L315.9,737.5L316.1,735.5L316.3,733.5L316.4,731.5L316.6,729.5L316.8,727.5L317,725.6L317.2,723.6L317.4,721.6L317.6,719.6L317.8,717.6L318,715.6L318.2,713.6L318.4,711.6L318.6,709.6L318.8,707.6L319.1,705.6L319.3,703.6L319.5,701.6L319.7,699.6L319.9,697.6L320.2,695.6L320.4,693.6L320.6,691.6L320.9,689.6L321.1,687.7L321.4,685.7L321.6,683.7L321.9,681.7L322.1,679.7L322.4,677.7L322.6,675.7L322.9,673.7L323.2,671.7L323.4,669.8L323.7,667.8L324,665.8L324.2,663.8L324.5,661.8L324.8,659.8L325.2,657.9L325.5,655.9L325.9,653.9L326.3,651.9L326.6,650L327,648L327.4,646L327.7,644L328.1,642.1L328.4,640.1L328.7,638.1L329,636.1L329.2,634.1L329.4,632.1L329.6,630.2L329.8,628.2L329.9,626.2L330.1,624.2L330.2,622.2L330.4,620.2L330.5,618.2L330.7,616.2L330.8,614.2L330.9,612.2L331,610.2L331.2,608.2L331.3,606.2L331.4,604.1L331.5,602.1L331.6,600.1L331.7,598.1L331.9,596.1L332,594.1L332.1,592.1L332.3,590.1L332.4,588.1L332.6,586.1L332.7,584.1L332.9,582.1L333.1,580.1L333.3,578.1L333.5,576.1L333.7,574.2L333.9,572.2L334.1,570.2L334.3,568.2L334.5,566.2L334.7,564.2L335,562.2L335.2,560.2L335.5,558.2L335.7,556.2L336,554.2L336.2,552.2L336.5,550.3L336.7,548.3L337,546.3L337.3,544.3L337.5,542.3L337.8,540.3L338.1,538.3L338.4,536.3L338.6,534.3L338.9,532.4L339.2,530.4L339.5,528.4L339.7,526.4L340,524.4L340.3,522.4L340.6,520.4L340.9,518.5L341.1,516.5L341.4,514.5L341.7,512.5L341.9,510.5L342.2,508.5L342.5,506.5L342.8,504.5L343,502.5L343.3,500.5L343.6,498.5L343.9,496.5L344.2,494.5L344.5,492.6L344.8,490.6L345.1,488.6L345.4,486.6L345.7,484.6L346,482.6L346.3,480.6L346.7,478.7L347,476.7L347.3,474.7L347.7,472.7L348.1,470.8L348.4,468.8L348.8,466.9L349.2,464.9L349.6,463L350.1,461L350.5,459.1L351,457.1L351.4,455.2L352,453.3L352.5,451.3L353,449.4L353.6,447.4L354.2,445.5L354.8,443.5L355.5,441.6L356.1,439.7L356.8,437.8L357.5,435.9L358.2,434L358.9,432.1L359.7,430.3L360.5,428.5L361.2,426.7L362.1,424.9L362.9,423.1L363.8,421.3L364.7,419.6L365.7,417.8L366.7,416L367.8,414.3L368.8,412.5L370,410.8L371.1,409.1L372.3,407.5L373.5,405.8L374.7,404.2L376,402.6L377.3,401.1L378.5,399.6L379.8,398.2L381.2,396.8L382.6,395.4L384,394L385.5,392.7L387.1,391.4L388.6,390.1L390.2,388.9L391.9,387.6L393.5,386.4L395.2,385.3L396.9,384.1L398.5,383L400.2,381.9L401.9,380.8L403.8,379.9L405.8,379L407.8,378.1L409.7,377.3L411.7,376.4L413.5,375.5L415.1,374.5L416.6,373.4L417.8,372.2L418.8,370.8L419.7,369.3L420.5,367.5L421.2,365.6L421.8,363.6L422.4,361.6L423.1,359.5L423.7,357.5L424.4,355.5L425.2,353.6L426.1,351.8L427.1,350.2L428.2,348.5L429.4,346.9L430.7,345.3L432,343.7L433.3,342.2L434.7,340.7L436.2,339.3L437.6,337.9L439,336.5L440.5,335.1L442,333.7L443.6,332.4L445.2,331.1L446.9,330L448.6,329L450.4,328.3L452.2,327.7L454.1,327.1L456.1,326.6L458,326.2L460,325.7L462,325.3L464,324.7L465.9,324.2L467.8,323.6L469.7,323L471.7,322.5L473.6,321.9L475.5,321.3L477.4,320.6L479.3,320L494.8,316.3L518,310.9L542.8,305.4L566,305.1L587.7,302.5L612.4,298.5L643.3,293.5L668.1,290.5L696,288.5L722.3,287L745.5,286.5L771.8,286.5L797.4,286.5L822.9,287L849.2,288L878.6,289L909.4,290.4L942.7,294.8L976.7,298.9L1013.1,305.3L1054.9,313.4L1075,317.7" fill="none" stroke="#EE3E3E" stroke-width="9.5"/>
<path d="M254,1367.5a19,19 0 1,0 38,0a19,19 0 1,0 -38,0zM256.1,1364a19,19 0 1,0 38,0a19,19 0 1,0 -38,0zM254.2,1360.5a19,19 0 1,0 38,0a19,19 0 1,0 -38,0zM256.4,1357a19,19 0 1,0 38,0a19,19 0 1,0 -38,0zM254.5,1353.5a19,19 0 1,0 38,0a19,19 0 1,0 -38,0zM256.6,1350a19,19 0 1,0 38,0a19,19 0 1,0 -38,0zM254.8,1346.5a19,19 0 1,0 38,0a19,19 0 1,0 -38,0zM256.9,1343a19,19 0 1,0 38,0a19,19 0 1,0 -38,0zM255,1339.5a19,19 0 1,0 38,0a19,19 0 1,0 -38,0zM257.2,1336a19,19 0 1,0 38,0a19,19 0 1,0 -38,0zM255.3,1332.5a19,19 0 1,0 38,0a19,19 0 1,0 -38,0zM257.5,1329a19,19 0 1,0 38,0a19,19 0 1,0 -38,0zM255.6,1325.5a19,19 0 1,0 38,0a19,19 0 1,0 -38,0zM257.8,1322a19,19 0 1,0 38,0a19,19 0 1,0 -38,0zM255.9,1318.5a19,19 0 1,0 38,0a19,19 0 1,0 -38,0zM258.1,1315a19,19 0 1,0 38,0a19,19 0 1,0 -38,0zM256.2,1311.5a19,19 0 1,0 38,0a19,19 0 1,0 -38,0zM258.4,1308a19,19 0 1,0 38,0a19,19 0 1,0 -38,0zM256.5,1304.6a19,19 0 1,0 38,0a19,19 0 1,0 -38,0zM258.6,1301.1a19,19 0 1,0 38,0a19,19 0 1,0 -38,0zM256.8,1297.6a19,19 0 1,0 38,0a19,19 0 1,0 -38,0zM258.9,1294.1a19,19 0 1,0 38,0a19,19 0 1,0 -38,0zM257,1290.6a19,19 0 1,0 38,0a19,19 0 1,0 -38,0zM260.3,1287.1a19,19 0 1,0 38,0a19,19 0 1,0 -38,0zM256,1280.9a19,19 0 1,0 38,0a19,19 0 1,0 -38,0zM260.5,1274.7a19,19 0 1,0 38,0a19,19 0 1,0 -38,0zM256.2,1268.5a19,19 0 1,0 38,0a19,19 0 1,0 -38,0zM260.7,1262.3a19,19 0 1,0 38,0a19,19 0 1,0 -38,0zM256.4,1256.1a19,19 0 1,0 38,0a19,19 0 1,0 -38,0zM260.9,1249.9a19,19 0 1,0 38,0a19,19 0 1,0 -38,0zM256.5,1243.7a19,19 0 1,0 38,0a19,19 0 1,0 -38,0zM261,1237.5a19,19 0 1,0 38,0a19,19 0 1,0 -38,0zM256.7,1231.3a19,19 0 1,0 38,0a19,19 0 1,0 -38,0zM261.2,1225.1a19,19 0 1,0 38,0a19,19 0 1,0 -38,0zM257,1218.9a19,19 0 1,0 38,0a19,19 0 1,0 -38,0zM261.5,1212.7a19,19 0 1,0 38,0a19,19 0 1,0 -38,0zM257.3,1206.5a19,19 0 1,0 38,0a19,19 0 1,0 -38,0zM262.1,1200.3a19,19 0 1,0 38,0a19,19 0 1,0 -38,0zM258.4,1194.1a19,19 0 1,0 38,0a19,19 0 1,0 -38,0zM263.6,1188a19,19 0 1,0 38,0a19,19 0 1,0 -38,0zM260.2,1181.9a19,19 0 1,0 38,0a19,19 0 1,0 -38,0zM265.5,1175.7a19,19 0 1,0 38,0a19,19 0 1,0 -38,0zM261.8,1169.6a19,19 0 1,0 38,0a19,19 0 1,0 -38,0zM266.8,1163.4a19,19 0 1,0 38,0a19,19 0 1,0 -38,0zM262.9,1157.2a19,19 0 1,0 38,0a19,19 0 1,0 -38,0zM267.8,1151a19,19 0 1,0 38,0a19,19 0 1,0 -38,0zM263.9,1144.9a19,19 0 1,0 38,0a19,19 0 1,0 -38,0zM268.8,1138.7a19,19 0 1,0 38,0a19,19 0 1,0 -38,0zM265.1,1132.5a19,19 0 1,0 38,0a19,19 0 1,0 -38,0zM270.2,1126.4a19,19 0 1,0 38,0a19,19 0 1,0 -38,0zM266.7,1120.2a19,19 0 1,0 38,0a19,19 0 1,0 -38,0zM271.9,1114.1a19,19 0 1,0 38,0a19,19 0 1,0 -38,0zM268.3,1107.9a19,19 0 1,0 38,0a19,19 0 1,0 -38,0zM273.4,1101.8a19,19 0 1,0 38,0a19,19 0 1,0 -38,0zM269.6,1095.6a19,19 0 1,0 38,0a19,19 0 1,0 -38,0zM274.6,1089.4a19,19 0 1,0 38,0a19,19 0 1,0 -38,0zM270.7,1083.2a19,19 0 1,0 38,0a19,19 0 1,0 -38,0zM275.6,1077.1a19,19 0 1,0 38,0a19,19 0 1,0 -38,0zM271.7,1070.9a19,19 0 1,0 38,0a19,19 0 1,0 -38,0zM276.5,1064.7a19,19 0 1,0 38,0a19,19 0 1,0 -38,0zM272.6,1058.5a19,19 0 1,0 38,0a19,19 0 1,0 -38,0zM277.4,1052.3a19,19 0 1,0 38,0a19,19 0 1,0 -38,0zM273.4,1046.1a19,19 0 1,0 38,0a19,19 0 1,0 -38,0zM278.3,1040a19,19 0 1,0 38,0a19,19 0 1,0 -38,0zM274.3,1033.8a19,19 0 1,0 38,0a19,19 0 1,0 -38,0zM279.2,1027.6a19,19 0 1,0 38,0a19,19 0 1,0 -38,0zM275.2,1021.4a19,19 0 1,0 38,0a19,19 0 1,0 -38,0zM280,1015.2a19,19 0 1,0 38,0a19,19 0 1,0 -38,0zM276,1009a19,19 0 1,0 38,0a19,19 0 1,0 -38,0zM280.9,1002.8a19,19 0 1,0 38,0a19,19 0 1,0 -38,0zM276.9,996.7a19,19 0 1,0 38,0a19,19 0 1,0 -38,0zM281.7,990.5a19,19 0 1,0 38,0a19,19 0 1,0 -38,0zM277.6,984.3a19,19 0 1,0 38,0a19,19 0 1,0 -38,0zM282.4,978.1a19,19 0 1,0 38,0a19,19 0 1,0 -38,0zM278.4,971.9a19,19 0 1,0 38,0a19,19 0 1,0 -38,0zM283.2,965.7a19,19 0 1,0 38,0a19,19 0 1,0 -38,0zM279.1,959.5a19,19 0 1,0 38,0a19,19 0 1,0 -38,0zM283.8,953.3a19,19 0 1,0 38,0a19,19 0 1,0 -38,0zM279.7,947.1a19,19 0 1,0 38,0a19,19 0 1,0 -38,0zM284.4,941a19,19 0 1,0 38,0a19,19 0 1,0 -38,0zM280.3,934.8a19,19 0 1,0 38,0a19,19 0 1,0 -38,0zM285,928.6a19,19 0 1,0 38,0a19,19 0 1,0 -38,0zM280.9,922.4a19,19 0 1,0 38,0a19,19 0 1,0 -38,0zM285.7,916.2a19,19 0 1,0 38,0a19,19 0 1,0 -38,0zM281.7,910a19,19 0 1,0 38,0a19,19 0 1,0 -38,0zM286.6,903.8a19,19 0 1,0 38,0a19,19 0 1,0 -38,0zM282.8,897.6a19,19 0 1,0 38,0a19,19 0 1,0 -38,0zM287.8,891.5a19,19 0 1,0 38,0a19,19 0 1,0 -38,0zM284.2,885.3a19,19 0 1,0 38,0a19,19 0 1,0 -38,0zM289.3,879.2a19,19 0 1,0 38,0a19,19 0 1,0 -38,0zM285.5,873a19,19 0 1,0 38,0a19,19 0 1,0 -38,0zM290.5,866.8a19,19 0 1,0 38,0a19,19 0 1,0 -38,0zM286.6,860.6a19,19 0 1,0 38,0a19,19 0 1,0 -38,0zM291.4,854.5a19,19 0 1,0 38,0a19,19 0 1,0 -38,0zM287.4,848.3a19,19 0 1,0 38,0a19,19 0 1,0 -38,0zM292.2,842.1a19,19 0 1,0 38,0a19,19 0 1,0 -38,0zM288.2,835.9a19,19 0 1,0 38,0a19,19 0 1,0 -38,0zM292.9,829.7a19,19 0 1,0 38,0a19,19 0 1,0 -38,0zM288.9,823.5a19,19 0 1,0 38,0a19,19 0 1,0 -38,0zM293.6,817.3a19,19 0 1,0 38,0a19,19 0 1,0 -38,0zM289.6,811.1a19,19 0 1,0 38,0a19,19 0 1,0 -38,0zM294.4,804.9a19,19 0 1,0 38,0a19,19 0 1,0 -38,0zM290.4,798.8a19,19 0 1,0 38,0a19,19 0 1,0 -38,0zM295.2,792.6a19,19 0 1,0 38,0a19,19 0 1,0 -38,0zM291.2,786.4a19,19 0 1,0 38,0a19,19 0 1,0 -38,0zM296,780.2a19,19 0 1,0 38,0a19,19 0 1,0 -38,0zM292,774a19,19 0 1,0 38,0a19,19 0 1,0 -38,0zM296.8,767.8a19,19 0 1,0 38,0a19,19 0 1,0 -38,0zM292.8,761.6a19,19 0 1,0 38,0a19,19 0 1,0 -38,0zM297.7,755.5a19,19 0 1,0 38,0a19,19 0 1,0 -38,0zM293.7,749.3a19,19 0 1,0 38,0a19,19 0 1,0 -38,0zM298.6,743.1a19,19 0 1,0 38,0a19,19 0 1,0 -38,0zM294.8,736.9a19,19 0 1,0 38,0a19,19 0 1,0 -38,0zM299.7,730.7a19,19 0 1,0 38,0a19,19 0 1,0 -38,0zM295.9,724.6a19,19 0 1,0 38,0a19,19 0 1,0 -38,0zM300.9,718.4a19,19 0 1,0 38,0a19,19 0 1,0 -38,0zM297.1,712.2a19,19 0 1,0 38,0a19,19 0 1,0 -38,0zM302.2,706.1a19,19 0 1,0 38,0a19,19 0 1,0 -38,0zM298.5,699.9a19,19 0 1,0 38,0a19,19 0 1,0 -38,0zM303.6,693.7a19,19 0 1,0 38,0a19,19 0 1,0 -38,0zM299.9,687.6a19,19 0 1,0 38,0a19,19 0 1,0 -38,0zM305.1,681.4a19,19 0 1,0 38,0a19,19 0 1,0 -38,0zM301.5,675.3a19,19 0 1,0 38,0a19,19 0 1,0 -38,0zM306.7,669.1a19,19 0 1,0 38,0a19,19 0 1,0 -38,0zM303.1,663a19,19 0 1,0 38,0a19,19 0 1,0 -38,0zM308.5,656.9a19,19 0 1,0 38,0a19,19 0 1,0 -38,0zM305.3,650.8a19,19 0 1,0 38,0a19,19 0 1,0 -38,0zM310.8,644.7a19,19 0 1,0 38,0a19,19 0 1,0 -38,0zM307.4,638.6a19,19 0 1,0 38,0a19,19 0 1,0 -38,0zM312.6,632.4a19,19 0 1,0 38,0a19,19 0 1,0 -38,0zM308.7,626.2a19,19 0 1,0 38,0a19,19 0 1,0 -38,0zM313.6,620.1a19,19 0 1,0 38,0a19,19 0 1,0 -38,0zM309.6,613.9a19,19 0 1,0 38,0a19,19 0 1,0 -38,0zM314.4,607.7a19,19 0 1,0 38,0a19,19 0 1,0 -38,0zM310.3,601.5a19,19 0 1,0 38,0a19,19 0 1,0 -38,0zM315.1,595.3a19,19 0 1,0 38,0a19,19 0 1,0 -38,0zM311.1,589.1a19,19 0 1,0 38,0a19,19 0 1,0 -38,0zM316,582.9a19,19 0 1,0 38,0a19,19 0 1,0 -38,0zM312.2,576.8a19,19 0 1,0 38,0a19,19 0 1,0 -38,0zM317.2,570.6a19,19 0 1,0 38,0a19,19 0 1,0 -38,0zM313.5,564.4a19,19 0 1,0 38,0a19,19 0 1,0 -38,0zM318.7,558.3a19,19 0 1,0 38,0a19,19 0 1,0 -38,0zM315,552.1a19,19 0 1,0 38,0a19,19 0 1,0 -38,0zM320.2,546a19,19 0 1,0 38,0a19,19 0 1,0 -38,0zM316.7,539.8a19,19 0 1,0 38,0a19,19 0 1,0 -38,0zM321.9,533.7a19,19 0 1,0 38,0a19,19 0 1,0 -38,0zM318.4,527.6a19,19 0 1,0 38,0a19,19 0 1,0 -38,0zM323.6,521.4a19,19 0 1,0 38,0a19,19 0 1,0 -38,0zM320.1,515.3a19,19 0 1,0 38,0a19,19 0 1,0 -38,0zM325.3,509.1a19,19 0 1,0 38,0a19,19 0 1,0 -38,0zM321.8,503a19,19 0 1,0 38,0a19,19 0 1,0 -38,0zM327,496.9a19,19 0 1,0 38,0a19,19 0 1,0 -38,0zM323.5,490.7a19,19 0 1,0 38,0a19,19 0 1,0 -38,0zM328.9,484.6a19,19 0 1,0 38,0a19,19 0 1,0 -38,0zM326.7,478.5a19,19 0 1,0 38,0a19,19 0 1,0 -38,0zM330.3,469.6a19,19 0 1,0 38,0a19,19 0 1,0 -38,0zM330.1,460.8a19,19 0 1,0 38,0a19,19 0 1,0 -38,0zM334.3,452.1a19,19 0 1,0 38,0a19,19 0 1,0 -38,0zM334.8,443.4a19,19 0 1,0 38,0a19,19 0 1,0 -38,0zM339.8,435a19,19 0 1,0 38,0a19,19 0 1,0 -38,0zM341.3,426.6a19,19 0 1,0 38,0a19,19 0 1,0 -38,0zM347.3,418.6a19,19 0 1,0 38,0a19,19 0 1,0 -38,0zM349.9,410.9a19,19 0 1,0 38,0a19,19 0 1,0 -38,0zM357.2,403.6a19,19 0 1,0 38,0a19,19 0 1,0 -38,0zM361.1,396.8a19,19 0 1,0 38,0a19,19 0 1,0 -38,0zM369.8,390.8a19,19 0 1,0 38,0a19,19 0 1,0 -38,0zM375,385.4a19,19 0 1,0 38,0a19,19 0 1,0 -38,0zM384.6,380.5a19,19 0 1,0 38,0a19,19 0 1,0 -38,0zM390.7,376.8a19,19 0 1,0 38,0a19,19 0 1,0 -38,0zM400.1,371.8a19,19 0 1,0 38,0a19,19 0 1,0 -38,0zM401.8,363.6a19,19 0 1,0 38,0a19,19 0 1,0 -38,0zM406.6,355.1a19,19 0 1,0 38,0a19,19 0 1,0 -38,0zM409.1,347.3a19,19 0 1,0 38,0a19,19 0 1,0 -38,0zM416.9,340.5a19,19 0 1,0 38,0a19,19 0 1,0 -38,0zM421.4,334.3a19,19 0 1,0 38,0a19,19 0 1,0 -38,0zM430.7,329a19,19 0 1,0 38,0a19,19 0 1,0 -38,0zM437.3,326.4a19,19 0 1,0 38,0a19,19 0 1,0 -38,0zM448,324.2a19,19 0 1,0 38,0a19,19 0 1,0 -38,0zM460.3,320a19,19 0 1,0 38,0a19,19 0 1,0 -38,0zM475.8,316.3a19,19 0 1,0 38,0a19,19 0 1,0 -38,0zM499,310.9a19,19 0 1,0 38,0a19,19 0 1,0 -38,0zM523.8,305.4a19,19 0 1,0 38,0a19,19 0 1,0 -38,0zM547,305.1a19,19 0 1,0 38,0a19,19 0 1,0 -38,0zM568.7,302.5a19,19 0 1,0 38,0a19,19 0 1,0 -38,0zM593.4,298.5a19,19 0 1,0 38,0a19,19 0 1,0 -38,0zM624.3,293.5a19,19 0 1,0 38,0a19,19 0 1,0 -38,0zM649.1,290.5a19,19 0 1,0 38,0a19,19 0 1,0 -38,0zM677,288.5a19,19 0 1,0 38,0a19,19 0 1,0 -38,0zM703.3,287a19,19 0 1,0 38,0a19,19 0 1,0 -38,0zM726.5,286.5a19,19 0 1,0 38,0a19,19 0 1,0 -38,0zM752.8,286.5a19,19 0 1,0 38,0a19,19 0 1,0 -38,0zM778.4,286.5a19,19 0 1,0 38,0a19,19 0 1,0 -38,0zM803.9,287a19,19 0 1,0 38,0a19,19 0 1,0 -38,0zM830.2,288a19,19 0 1,0 38,0a19,19 0 1,0 -38,0zM859.6,289a19,19 0 1,0 38,0a19,19 0 1,0 -38,0zM890.4,290.4a19,19 0 1,0 38,0a19,19 0 1,0 -38,0zM923.7,294.8a19,19 0 1,0 38,0a19,19 0 1,0 -38,0zM957.7,298.9a19,19 0 1,0 38,0a19,19 0 1,0 -38,0zM994.1,305.3a19,19 0 1,0 38,0a19,19 0 1,0 -38,0zM1035.9,313.4a19,19 0 1,0 38,0a19,19 0 1,0 -38,0z" fill="#EE3E3E" stroke="none"/>
<path d="M271.5,1369.5L271.5,1367.5L271.5,1365.5L271.5,1363.5L271.5,1361.5L271.5,1359.5L271.5,1357.5L271.5,1355.5L271.5,1353.5L271.5,1351.5L271.5,1349.5L271.5,1347.5L271.6,1345.5L271.7,1343.5L271.8,1341.5L271.9,1339.5L272.1,1337.5L272.3,1335.5L272.5,1333.5L272.7,1331.5L272.9,1329.5L273.1,1327.5L273.4,1325.5L273.6,1323.5L273.8,1321.5L274.1,1319.5L274.3,1317.5L274.5,1315.5L274.7,1313.5L274.9,1311.5L275,1309.5L275.2,1307.5L275.4,1305.6L275.5,1303.6L275.7,1301.6L275.8,1299.6L276,1297.6L276.1,1295.6L276.3,1293.6L276.4,1291.6L276.6,1289.6L276.7,1287.6L276.9,1285.6L277,1283.6L277.2,1281.6L277.3,1279.6L277.5,1277.6L277.6,1275.6L277.8,1273.6L277.9,1271.6L278,1269.6L278.2,1267.6L278.3,1265.6L278.4,1263.6L278.6,1261.6L278.7,1259.6L278.8,1257.6L279,1255.6L279.1,1253.6L279.2,1251.6L279.3,1249.6L279.5,1247.6L279.6,1245.6L279.7,1243.6L279.8,1241.6L279.9,1239.6L280,1237.6L280.1,1235.6L280.2,1233.6L280.3,1231.6L280.4,1229.6L280.5,1227.6L280.7,1225.6L280.8,1223.6L280.9,1221.6L281,1219.6L281.1,1217.6L281.2,1215.6L281.3,1213.6L281.4,1211.6L281.5,1209.6L281.6,1207.6L281.7,1205.6L281.8,1203.6L282,1201.6L282.1,1199.6L282.2,1197.6L282.3,1195.6L282.5,1193.6L282.6,1191.6L282.7,1189.6L282.9,1187.6L283,1185.6L283.1,1183.6L283.3,1181.6L283.4,1179.6L283.6,1177.6L283.7,1175.6L283.9,1173.6L284,1171.6L284.2,1169.6L284.3,1167.6L284.5,1165.6L284.6,1163.6L284.8,1161.6L285,1159.6L285.1,1157.6L285.3,1155.6L285.5,1153.6L285.6,1151.6L285.8,1149.6L286,1147.6L286.1,1145.6L286.3,1143.6L286.5,1141.6L286.6,1139.6L286.8,1137.6L287,1135.6L287.1,1133.6L287.3,1131.7L287.5,1129.7L287.6,1127.7L287.8,1125.7L288,1123.7L288.2,1121.7L288.3,1119.7L288.5,1117.7L288.7,1115.7L288.8,1113.7L289,1111.7L289.2,1109.7L289.4,1107.7L289.5,1105.7L289.7,1103.7L289.9,1101.7L290,1099.7L290.2,1097.7L290.4,1095.7L290.5,1093.7L290.7,1091.7L290.9,1089.7L291,1087.7L291.2,1085.7L291.4,1083.7L291.5,1081.7L291.7,1079.7L291.9,1077.7L292.1,1075.7L292.2,1073.8L292.4,1071.8L292.6,1069.8L292.7,1067.8L292.9,1065.8L293.1,1063.8L293.3,1061.8L293.4,1059.8L293.6,1057.8L293.8,1055.8L293.9,1053.8L294.1,1051.8L294.3,1049.8L294.5,1047.8L294.6,1045.8L294.8,1043.8L295,1041.8L295.2,1039.8L295.3,1037.8L295.5,1035.8L295.7,1033.8L295.8,1031.8L296,1029.8L296.2,1027.8L296.4,1025.8L296.5,1023.8L296.7,1021.9L296.9,1019.9L297.1,1017.9L297.3,1015.9L297.4,1013.9L297.6,1011.9L297.8,1009.9L298,1007.9L298.2,1005.9L298.4,1003.9L298.6,1001.9L298.7,999.9L298.9,997.9L299.1,995.9L299.3,993.9L299.5,991.9L299.7,989.9L299.8,987.9L300,985.9L300.2,983.9L300.4,981.9L300.5,979.9L300.7,977.9L300.8,975.9L301,973.9L301.2,972L301.3,970L301.5,968L301.6,966L301.7,964L301.9,962L302,960L302.1,958L302.2,956L302.3,954L302.5,952L302.6,950L302.6,947.9L302.7,945.9L302.8,943.9L302.9,941.9L303,939.9L303.1,937.9L303.1,935.9L303.2,933.9L303.3,931.9L303.3,929.9L303.4,927.9L303.5,925.9L303.6,923.9L303.6,921.8L303.7,919.8L303.8,917.8L303.9,915.8L304,913.8L304.1,911.8L304.2,909.8L304.3,907.8L304.4,905.8L304.5,903.8L304.6,901.8L304.7,899.8L304.9,897.9L305,895.9L305.2,893.9L305.3,891.9L305.5,889.9L305.7,888L306.1,886L306.5,884L306.9,882.1L307.4,880.1L307.9,878.2L308.4,876.2L308.9,874.2L309.3,872.3L309.7,870.3L310,868.3L310.2,866.4L310.4,864.4L310.6,862.4L310.8,860.4L310.9,858.4L311.1,856.4L311.3,854.4L311.4,852.4L311.6,850.4L311.7,848.5L311.9,846.5L312,844.5L312.1,842.5L312.2,840.5L312.4,838.4L312.5,836.4L312.6,834.4L312.7,832.4L312.8,830.4L312.9,828.4L313,826.4L313.1,824.4L313.2,822.4L313.3,820.4L313.4,818.4L313.5,816.4L313.6,814.4L313.7,812.4L313.9,810.4L314,808.4L314.1,806.4L314.2,804.4L314.3,802.4L314.5,800.4L314.6,798.4L314.7,796.4L314.9,794.4L315,792.4L315.1,790.4L315.3,788.4L315.4,786.4L315.5,784.4L315.7,782.4L315.8,780.4L315.9,778.4L316.1,776.4L316.2,774.4L316.3,772.4L316.5,770.4L316.6,768.4L316.7,766.4L316.9,764.4L317,762.4L317.1,760.4L317.3,758.4L317.4,756.4L317.6,754.4L317.7,752.4L317.9,750.4L318,748.4L318.2,746.4L318.3,744.4L318.5,742.4L318.7,740.4L318.8,738.4L319,736.4L319.2,734.4L319.4,732.4L319.6,730.4L319.7,728.4L319.9,726.4L320.1,724.4L320.3,722.5L320.5,720.5L320.7,718.5L320.9,716.5L321.2,714.5L321.4,712.5L321.6,710.5L321.8,708.5L322,706.5L322.2,704.5L322.5,702.5L322.7,700.5L322.9,698.5L323.1,696.6L323.4,694.6L323.6,692.6L323.8,690.6L324.1,688.6L324.3,686.6L324.5,684.6L324.8,682.6L325,680.6L325.2,678.6L325.5,676.6L325.7,674.7L326,672.7L326.2,670.7L326.4,668.7L326.7,666.7L326.9,664.7L327.2,662.7L327.4,660.7L327.7,658.7L327.9,656.8L328.2,654.8L328.5,652.8L328.7,650.8L329,648.8L329.3,646.8L329.6,644.8L329.9,642.9L330.1,640.9L330.4,638.9L330.7,636.9L330.9,634.9L331.2,632.9L331.5,630.9L331.7,629L331.9,627L332.1,625L332.4,623L332.5,621L332.7,619L332.9,617L333.1,615L333.2,613L333.4,611L333.5,609L333.7,607L333.8,605L334,603L334.1,601L334.2,599L334.4,597L334.5,595L334.6,593L334.8,591L334.9,589L335,587L335.2,585L335.3,583L335.5,581L335.6,579L335.8,577L335.9,575L336.1,573L336.3,571L336.4,569L336.6,567L336.8,565.1L337,563.1L337.2,561.1L337.5,559.1L337.7,557.1L337.9,555.1L338.1,553.1L338.4,551.1L338.6,549.1L338.9,547.1L339.1,545.2L339.4,543.2L339.6,541.2L339.9,539.2L340.1,537.2L340.4,535.2L340.7,533.2L341,531.2L341.2,529.3L341.5,527.3L341.8,525.3L342.1,523.3L342.4,521.3L342.7,519.3L343,517.4L343.3,515.4L343.6,513.4L343.9,511.4L344.2,509.4L344.5,507.5L344.8,505.5L345.1,503.5L345.4,501.5L345.7,499.5L346.1,497.6L346.4,495.6L346.7,493.6L347.1,491.6L347.4,489.7L347.8,487.7L348.2,485.7L348.5,483.8L348.9,481.8L349.3,479.8L349.6,477.8L350,475.9L350.4,473.9L350.8,471.9L351.1,470L351.5,468L351.9,466L352.3,464.1L352.7,462.1L353,460.1L353.4,458.2L353.8,456.2L354.2,454.2L354.6,452.3L355,450.3L355.3,448.3L355.7,446.4L356.1,444.4L356.5,442.4L356.8,440.5L357.2,438.5L357.6,436.5L358,434.6L358.4,432.6L358.7,430.6L359.1,428.6L359.5,426.7L359.9,424.7L360.3,422.8L360.7,420.8L361.1,418.8L361.6,416.9L362,414.9L362.5,413L362.9,411L363.4,409.1L363.9,407.1L364.4,405.2L364.9,403.3L365.4,401.3L365.9,399.4L366.4,397.4L366.9,395.5L367.5,393.6L368,391.6L368.5,389.7L369.1,387.8L369.6,385.8L370.1,383.9L370.6,381.9L371.1,380L371.6,378L372.2,376.1L372.7,374.1L373.3,372.2L373.9,370.3L374.5,368.4L375.2,366.6L375.9,364.8L376.8,363L377.7,361.2L378.6,359.5L379.7,357.8L380.8,356.1L381.9,354.4L383,352.7L384.2,351L385.3,349.4L386.5,347.7L387.6,346L388.8,344.4L389.9,342.7L391,341.1L392.2,339.4L393.4,337.8L394.5,336.2L395.7,334.6L397,333L398.2,331.4L399.4,329.8L400.7,328.3L402,326.8L403.4,325.3L404.7,323.9L406.2,322.5L407.6,321.1L409.1,319.7L410.6,318.3L412,316.9L413.4,315.5L414.7,314L416,312.5L417.3,310.9L418.5,309.4L419.8,307.8L421,306.2L422.2,304.6L423.4,303L424.7,301.4L425.9,299.9L427.3,298.4L428.6,296.9L430,295.4L431.4,294L440.2,286.4L452.6,277.9L464.7,269.4L477.1,261.2L489.4,257L502.1,248.5L518.9,244.3L531.2,236.1L547.5,232.2L560.2,227.1L576.9,219.1L593.2,215.2L609.8,210.9L627.2,206.3L643.7,202.1L660.4,198.1L681.3,194L697.5,190L714.2,186.1L734.7,181.2L755.6,180.7L772.3,177.2L793.2,173.3L814.1,173.3L834.5,168.7L851.5,164.9L871.7,164.9L897.2,160.5L918.1,160.5L938.5,155.9L958.7,155.9L983.1,155.9L1005.2,152.2L1029.6,152.2L1054.3,151.5L1079.5,151L1104.6,150L1130.1,148.4L1157.6,148.4L1183.8,148.4L1212,148.4L1237.5,148.4L1267.6,148.4L1299.5,148.4L1328.7,148.4L1362.2,148.4L1391.5,148.4L1424.6,148.4L1461.7,152.6L1495.2,156.4L1532.7,156.4L1569.9,165.1L1611.8,169.4" fill="none" stroke="#1B6CDE" stroke-width="9.5"/>
<path d="M270.5,1344.5l20.5,37.5h-41zM272.5,1341l20.5,37.5h-41zM270.5,1337.5l20.5,37.5h-41zM272.5,1334l20.5,37.5h-41zM270.5,1330.5l20.5,37.5h-41zM272.5,1327l20.5,37.5h-41zM270.5,1323.5l20.5,37.5h-41zM272.6,1320l20.5,37.5h-41zM270.8,1316.5l20.5,37.5h-41zM273.1,1313l20.5,37.5h-41zM271.4,1309.5l20.5,37.5h-41zM273.7,1306l20.5,37.5h-41zM272.1,1302.6l20.5,37.5h-41zM274.5,1299.1l20.5,37.5h-41zM272.9,1295.6l20.5,37.5h-41zM275.3,1292.1l20.5,37.5h-41zM273.7,1288.7l20.5,37.5h-41zM276,1285.2l20.5,37.5h-41zM274.3,1281.7l20.5,37.5h-41zM276.5,1278.2l20.5,37.5h-41zM274.8,1274.7l20.5,37.5h-41zM277.1,1271.2l20.5,37.5h-41zM275.3,1267.7l20.5,37.5h-41zM278.8,1264.2l20.5,37.5h-41zM274.9,1258.1l20.5,37.5h-41zM279.7,1251.9l20.5,37.5h-41zM275.8,1245.7l20.5,37.5h-41zM280.6,1239.5l20.5,37.5h-41zM276.6,1233.3l20.5,37.5h-41zM281.4,1227.1l20.5,37.5h-41zM277.3,1220.9l20.5,37.5h-41zM282.1,1214.7l20.5,37.5h-41zM278,1208.6l20.5,37.5h-41zM282.8,1202.4l20.5,37.5h-41zM278.7,1196.2l20.5,37.5h-41zM283.4,1190l20.5,37.5h-41zM279.4,1183.8l20.5,37.5h-41zM284.1,1177.6l20.5,37.5h-41zM280.1,1171.4l20.5,37.5h-41zM284.9,1165.2l20.5,37.5h-41zM280.9,1159l20.5,37.5h-41zM285.8,1152.9l20.5,37.5h-41zM281.8,1146.7l20.5,37.5h-41zM286.7,1140.5l20.5,37.5h-41zM282.8,1134.3l20.5,37.5h-41zM287.7,1128.1l20.5,37.5h-41zM283.8,1122l20.5,37.5h-41zM288.7,1115.8l20.5,37.5h-41zM284.9,1109.6l20.5,37.5h-41zM289.8,1103.4l20.5,37.5h-41zM285.9,1097.2l20.5,37.5h-41zM290.8,1091.1l20.5,37.5h-41zM287,1084.9l20.5,37.5h-41zM291.9,1078.7l20.5,37.5h-41zM288,1072.5l20.5,37.5h-41zM292.9,1066.4l20.5,37.5h-41zM289,1060.2l20.5,37.5h-41zM294,1054l20.5,37.5h-41zM290.1,1047.8l20.5,37.5h-41zM295,1041.6l20.5,37.5h-41zM291.2,1035.5l20.5,37.5h-41zM296.1,1029.3l20.5,37.5h-41zM292.2,1023.1l20.5,37.5h-41zM297.2,1016.9l20.5,37.5h-41zM293.3,1010.8l20.5,37.5h-41zM298.2,1004.6l20.5,37.5h-41zM294.4,998.4l20.5,37.5h-41zM299.3,992.2l20.5,37.5h-41zM295.5,986.1l20.5,37.5h-41zM300.5,979.9l20.5,37.5h-41zM296.7,973.7l20.5,37.5h-41zM301.6,967.5l20.5,37.5h-41zM297.8,961.4l20.5,37.5h-41zM302.7,955.2l20.5,37.5h-41zM298.8,949l20.5,37.5h-41zM303.7,942.8l20.5,37.5h-41zM299.7,936.6l20.5,37.5h-41zM304.5,930.4l20.5,37.5h-41zM300.4,924.3l20.5,37.5h-41zM305.1,918.1l20.5,37.5h-41zM300.9,911.9l20.5,37.5h-41zM305.5,905.7l20.5,37.5h-41zM301.3,899.5l20.5,37.5h-41zM306,893.3l20.5,37.5h-41zM301.8,887.1l20.5,37.5h-41zM306.6,880.9l20.5,37.5h-41zM302.5,874.7l20.5,37.5h-41zM307.4,868.5l20.5,37.5h-41zM303.6,862.4l20.5,37.5h-41zM309.3,856.3l20.5,37.5h-41zM306.4,850.3l20.5,37.5h-41zM312,844.2l20.5,37.5h-41zM308.3,838l20.5,37.5h-41zM313.3,831.9l20.5,37.5h-41zM309.4,825.7l20.5,37.5h-41zM314.2,819.5l20.5,37.5h-41zM310.2,813.3l20.5,37.5h-41zM314.9,807.1l20.5,37.5h-41zM310.8,800.9l20.5,37.5h-41zM315.6,794.7l20.5,37.5h-41zM311.5,788.5l20.5,37.5h-41zM316.2,782.4l20.5,37.5h-41zM312.2,776.2l20.5,37.5h-41zM317,770l20.5,37.5h-41zM313,763.8l20.5,37.5h-41zM317.8,757.6l20.5,37.5h-41zM313.9,751.4l20.5,37.5h-41zM318.7,745.2l20.5,37.5h-41zM314.7,739l20.5,37.5h-41zM319.5,732.9l20.5,37.5h-41zM315.6,726.7l20.5,37.5h-41zM320.4,720.5l20.5,37.5h-41zM316.6,714.3l20.5,37.5h-41zM321.5,708.1l20.5,37.5h-41zM317.7,702l20.5,37.5h-41zM322.7,695.8l20.5,37.5h-41zM318.9,689.6l20.5,37.5h-41zM324,683.5l20.5,37.5h-41zM320.3,677.3l20.5,37.5h-41zM325.4,671.1l20.5,37.5h-41zM321.7,665l20.5,37.5h-41zM326.8,658.8l20.5,37.5h-41zM323.2,652.7l20.5,37.5h-41zM328.3,646.5l20.5,37.5h-41zM324.6,640.4l20.5,37.5h-41zM329.8,634.2l20.5,37.5h-41zM326.2,628.1l20.5,37.5h-41zM331.5,621.9l20.5,37.5h-41zM327.9,615.8l20.5,37.5h-41zM333.2,609.6l20.5,37.5h-41zM329.5,603.5l20.5,37.5h-41zM334.6,597.3l20.5,37.5h-41zM330.8,591.1l20.5,37.5h-41zM335.7,585l20.5,37.5h-41zM331.7,578.8l20.5,37.5h-41zM336.5,572.6l20.5,37.5h-41zM332.5,566.4l20.5,37.5h-41zM337.4,560.2l20.5,37.5h-41zM333.4,554l20.5,37.5h-41zM338.3,547.9l20.5,37.5h-41zM334.5,541.7l20.5,37.5h-41zM339.5,535.5l20.5,37.5h-41zM335.8,529.4l20.5,37.5h-41zM340.9,523.2l20.5,37.5h-41zM337.3,517.1l20.5,37.5h-41zM342.5,510.9l20.5,37.5h-41zM339,504.8l20.5,37.5h-41zM344.2,498.6l20.5,37.5h-41zM340.7,492.5l20.5,37.5h-41zM346.1,486.4l20.5,37.5h-41zM342.6,480.2l20.5,37.5h-41zM348,474.1l20.5,37.5h-41zM344.6,468l20.5,37.5h-41zM350.1,461.9l20.5,37.5h-41zM346.9,455.8l20.5,37.5h-41zM351.2,448.8l20.5,37.5h-41zM350.9,440.6l20.5,37.5h-41zM354.6,432.4l20.5,37.5h-41zM354.4,424.2l20.5,37.5h-41zM358.1,416l20.5,37.5h-41zM357.8,403.7l20.5,37.5h-41zM361.5,395.5l20.5,37.5h-41zM361.5,387.3l20.5,37.5h-41zM365.6,379.1l20.5,37.5h-41zM365.9,370.9l20.5,37.5h-41zM370.3,362.7l20.5,37.5h-41zM370.6,354.4l20.5,37.5h-41zM375.2,346.2l20.5,37.5h-41zM376.7,338l20.5,37.5h-41zM383.4,329.8l20.5,37.5h-41zM386.6,321.6l20.5,37.5h-41zM393.7,313.4l20.5,37.5h-41zM397.1,305.2l20.5,37.5h-41zM404.9,301.1l20.5,37.5h-41zM409.4,292.9l20.5,37.5h-41zM417.5,288.8l20.5,37.5h-41zM421,280.6l20.5,37.5h-41zM431.4,268.3l20.5,37.5h-41zM440.2,260.1l20.5,37.5h-41zM452.6,251.9l20.5,37.5h-41zM464.7,243.7l20.5,37.5h-41zM477.1,235.5l20.5,37.5h-41zM489.4,231.4l20.5,37.5h-41zM502.1,223.1l20.5,37.5h-41zM518.9,219l20.5,37.5h-41zM531.2,210.8l20.5,37.5h-41zM547.5,206.7l20.5,37.5h-41zM560.2,202.6l20.5,37.5h-41zM576.9,194.4l20.5,37.5h-41zM593.2,190.3l20.5,37.5h-41zM609.8,186.2l20.5,37.5h-41zM627.2,182.1l20.5,37.5h-41zM643.7,178l20.5,37.5h-41zM660.4,173.9l20.5,37.5h-41zM681.3,169.8l20.5,37.5h-41zM697.5,165.7l20.5,37.5h-41zM714.2,161.6l20.5,37.5h-41zM734.7,157.5l20.5,37.5h-41zM755.6,157.5l20.5,37.5h-41zM772.3,153.4l20.5,37.5h-41zM793.2,149.3l20.5,37.5h-41zM814.1,149.3l20.5,37.5h-41zM834.5,145.2l20.5,37.5h-41zM851.5,141.1l20.5,37.5h-41zM871.7,141.1l20.5,37.5h-41zM897.2,137l20.5,37.5h-41zM918.1,137l20.5,37.5h-41zM938.5,132.9l20.5,37.5h-41zM958.7,132.9l20.5,37.5h-41zM983.1,132.9l20.5,37.5h-41zM1005.2,128.8l20.5,37.5h-41zM1029.6,128.8l20.5,37.5h-41zM1054.3,124.7l20.5,37.5h-41zM1079.5,124.7l20.5,37.5h-41zM1104.6,124.7l20.5,37.5h-41zM1130.1,124.7l20.5,37.5h-41zM1157.6,124.7l20.5,37.5h-41zM1183.8,124.7l20.5,37.5h-41zM1212,124.7l20.5,37.5h-41zM1237.5,124.7l20.5,37.5h-41zM1267.6,124.7l20.5,37.5h-41zM1299.5,124.7l20.5,37.5h-41zM1328.7,124.7l20.5,37.5h-41zM1362.2,124.7l20.5,37.5h-41zM1391.5,124.7l20.5,37.5h-41zM1424.6,124.7l20.5,37.5h-41zM1461.7,128.8l20.5,37.5h-41zM1495.2,132.9l20.5,37.5h-41zM1532.7,132.9l20.5,37.5h-41zM1569.9,141.1l20.5,37.5h-41zM1611.8,145.2l20.5,37.5h-41z" fill="#1B6CDE" stroke="none"/>
<path d="M271.5,1345L271.5,1343L271.5,1341L271.5,1339L271.5,1337L271.5,1335L271.5,1333L271.5,1331L271.5,1329L271.5,1327L271.5,1325L271.5,1323L271.6,1321L271.7,1319L271.9,1317L272.1,1315L272.3,1313L272.6,1311L272.8,1309L273.1,1307L273.4,1305L273.6,1303L273.9,1301L274.1,1299L274.4,1297L274.6,1295L274.9,1293.1L275.1,1291.1L275.4,1289.1L275.7,1287.1L276,1285.1L276.3,1283.1L276.5,1281.1L276.8,1279.2L277.1,1277.2L277.4,1275.2L277.6,1273.2L277.9,1271.2L278.1,1269.2L278.3,1267.2L278.6,1265.2L278.8,1263.2L279,1261.3L279.2,1259.3L279.4,1257.3L279.7,1255.3L279.9,1253.3L280.1,1251.3L280.3,1249.3L280.5,1247.3L280.7,1245.3L280.9,1243.3L281.1,1241.3L281.3,1239.3L281.5,1237.3L281.7,1235.3L281.9,1233.3L282.1,1231.3L282.3,1229.3L282.5,1227.3L282.7,1225.3L282.8,1223.4L283,1221.4L283.2,1219.4L283.4,1217.4L283.5,1215.4L283.7,1213.4L283.9,1211.4L284.1,1209.4L284.2,1207.4L284.4,1205.4L284.5,1203.4L284.7,1201.4L284.9,1199.4L285,1197.4L285.2,1195.4L285.3,1193.4L285.5,1191.4L285.6,1189.4L285.8,1187.4L285.9,1185.4L286.1,1183.4L286.2,1181.4L286.4,1179.4L286.5,1177.4L286.7,1175.4L286.8,1173.4L286.9,1171.4L287.1,1169.4L287.2,1167.4L287.4,1165.4L287.5,1163.4L287.7,1161.4L287.8,1159.4L287.9,1157.4L288.1,1155.4L288.2,1153.4L288.3,1151.4L288.5,1149.4L288.6,1147.4L288.8,1145.4L288.9,1143.4L289,1141.4L289.2,1139.4L289.3,1137.4L289.4,1135.4L289.6,1133.4L289.7,1131.4L289.9,1129.4L290,1127.4L290.1,1125.4L290.3,1123.4L290.4,1121.4L290.6,1119.4L290.7,1117.4L290.9,1115.4L291,1113.4L291.1,1111.4L291.3,1109.4L291.4,1107.4L291.6,1105.4L291.7,1103.4L291.9,1101.4L292,1099.4L292.2,1097.4L292.4,1095.4L292.5,1093.4L292.7,1091.4L292.8,1089.4L293,1087.4L293.1,1085.4L293.3,1083.4L293.4,1081.4L293.6,1079.4L293.8,1077.4L293.9,1075.4L294.1,1073.4L294.2,1071.4L294.4,1069.4L294.6,1067.4L294.7,1065.4L294.9,1063.4L295,1061.4L295.2,1059.4L295.4,1057.4L295.5,1055.4L295.7,1053.4L295.8,1051.4L296,1049.4L296.2,1047.4L296.3,1045.4L296.5,1043.4L296.7,1041.4L296.8,1039.5L297,1037.5L297.1,1035.5L297.3,1033.5L297.5,1031.5L297.6,1029.5L297.8,1027.5L297.9,1025.5L298.1,1023.5L298.3,1021.5L298.4,1019.5L298.6,1017.5L298.8,1015.5L298.9,1013.5L299.1,1011.5L299.2,1009.5L299.4,1007.5L299.6,1005.5L299.7,1003.5L299.9,1001.5L300,999.5L300.2,997.5L300.4,995.5L300.5,993.5L300.7,991.5L300.8,989.5L301,987.5L301.1,985.5L301.3,983.5L301.5,981.5L301.6,979.5L301.8,977.5L301.9,975.5L302.1,973.5L302.2,971.5L302.4,969.5L302.5,967.5L302.7,965.5L302.8,963.5L303,961.5L303.1,959.5L303.3,957.5L303.5,955.5L303.6,953.5L303.8,951.5L303.9,949.5L304.1,947.5L304.2,945.5L304.4,943.5L304.5,941.5L304.7,939.5L304.9,937.5L305,935.5L305.2,933.5L305.3,931.5L305.5,929.5L305.7,927.5L305.8,925.5L306,923.5L306.2,921.5L306.3,919.5L306.5,917.5L306.7,915.5L306.8,913.5L307,911.6L307.2,909.6L307.3,907.6L307.5,905.6L307.7,903.6L307.9,901.6L308,899.6L308.2,897.6L308.4,895.6L308.6,893.6L308.8,891.6L308.9,889.6L309.1,887.6L309.3,885.6L309.5,883.6L309.6,881.6L309.8,879.6L310,877.6L310.2,875.6L310.4,873.6L310.6,871.6L310.8,869.6L310.9,867.6L311.1,865.6L311.3,863.6L311.5,861.6L311.7,859.6L311.9,857.6L312.1,855.6L312.3,853.6L312.5,851.7L312.7,849.7L312.9,847.7L313.1,845.7L313.3,843.7L313.5,841.7L313.7,839.7L314,837.7L314.2,835.7L314.4,833.7L314.6,831.7L314.8,829.7L315.1,827.7L315.3,825.7L315.5,823.8L315.8,821.8L316,819.8L316.3,817.8L316.5,815.8L316.8,813.8L317.1,811.8L317.4,809.9L317.7,807.9L318,805.9L318.3,803.9L318.6,801.9L318.9,799.9L319.2,798L319.5,796L319.9,794L320.2,792L320.5,790L320.8,788.1L321.1,786.1L321.4,784.1L321.7,782.1L322,780.1L322.3,778.1L322.5,776.2L322.8,774.2L323.1,772.2L323.3,770.2L323.6,768.2L323.8,766.2L324.1,764.2L324.3,762.2L324.6,760.2L324.8,758.3L325.1,756.3L325.3,754.3L325.6,752.3L325.8,750.3L326.1,748.3L326.3,746.3L326.6,744.3L326.8,742.3L327.1,740.3L327.3,738.4L327.6,736.4L327.9,734.4L328.1,732.4L328.4,730.4L328.7,728.4L329,726.5L329.3,724.5L329.6,722.5L329.9,720.5L330.2,718.5L330.6,716.6L331,714.6L331.3,712.6L331.7,710.7L332.2,708.7L332.6,706.7L333,704.8L333.4,702.8L333.9,700.9L334.3,698.9L334.7,696.9L335.2,695L335.6,693L336,691.1L336.4,689.1L336.8,687.1L337.1,685.1L337.5,683.2L337.8,681.2L338.1,679.2L338.4,677.2L338.7,675.3L338.9,673.3L339.1,671.3L339.3,669.3L339.6,667.3L339.8,665.3L340,663.3L340.2,661.3L340.4,659.3L340.6,657.3L340.8,655.3L341,653.3L341.2,651.3L341.4,649.3L341.7,647.3L341.9,645.3L342.2,643.3L342.5,641.4L342.8,639.4L343.1,637.4L343.6,635.5L344,633.5L344.5,631.6L345,629.6L345.6,627.7L346.1,625.8L346.7,623.8L347.2,621.9L347.8,620L348.3,618.1L348.9,616.1L349.5,614.2L350.1,612.3L350.6,610.4L351.1,608.4L351.7,606.5L352.2,604.6L352.8,602.6L353.3,600.7L353.8,598.8L354.2,596.8L354.6,594.8L355,592.9L355.3,590.9L355.5,588.9L355.8,586.9L356,584.9L356.2,582.9L356.5,580.9L356.7,578.9L356.9,576.9L357.1,575L357.3,572.9L357.5,570.9L357.7,568.9L357.9,566.9L358.1,564.9L358.4,563L358.7,561L359.1,559.1L359.5,557.1L360.1,555.2L360.7,553.2L361.4,551.3L362,549.4L362.7,547.6L363.5,545.7L364.3,543.9L365.2,542.1L366.2,540.4L367.1,538.6L368.1,536.8L369,535L369.9,533.2L370.9,531.5L371.8,529.7L372.7,527.9L373.6,526.1L374.5,524.3L375.4,522.5L376.2,520.7L376.9,518.8L377.6,516.8L378.2,514.9L378.9,513L379.6,511.1L380.5,509.3L381.4,507.7L382.6,506.2L384,504.8L385.5,503.4L387.1,502.1L388.6,500.7L390.1,499.3L391.4,497.8L392.7,496.3L393.9,494.7L395.1,493.1L396.3,491.5L397.5,489.9L398.7,488.2L399.8,486.6L401,484.9L402.1,483.3L403.3,481.6L404.3,479.9L405.4,478.2L406.4,476.4L407.4,474.7L408.4,472.9L409.5,471.2L410.5,469.5L411.6,467.8L412.8,466.3L414.1,464.8L415.5,463.4L416.9,462L418.4,460.7L420,459.4L421.6,458.2L423.3,457L439.6,448.5L452,444.6L473.7,440.3L489.9,436.6L510.8,431.5L531.7,427.6L552.6,423.4L573.2,419.5L593.6,419.5L614.5,415.5L639.8,415.5L660.2,411L685.1,411.4L705.7,411.4L730.5,406.6L756,406.6L780.8,406.6L805.6,406.6L830.4,406.6L855.3,406.6L884.5,406.6L909.4,406.3L938.2,406.3L967.7,411L1000.9,415.4L1038.2,419.5L1075.1,427.1L1117.3,437L1138,443.3" fill="none" stroke="#37AD6B" stroke-width="9.5"/>
<path d="M270.5,1370.5l20.5,-38h-41zM272.5,1367l20.5,-38h-41zM270.5,1363.5l20.5,-38h-41zM272.5,1360l20.5,-38h-41zM270.5,1356.5l20.5,-38h-41zM272.5,1353l20.5,-38h-41zM270.5,1349.5l20.5,-38h-41zM272.6,1346l20.5,-38h-41zM270.9,1342.5l20.5,-38h-41zM273.3,1339l20.5,-38h-41zM271.7,1335.6l20.5,-38h-41zM274.2,1332.1l20.5,-38h-41zM272.6,1328.6l20.5,-38h-41zM275,1325.1l20.5,-38h-41zM273.5,1321.7l20.5,-38h-41zM275.9,1318.2l20.5,-38h-41zM273.2,1314.7l20.5,-38h-41zM278.5,1308.6l20.5,-38h-41zM274.9,1302.5l20.5,-38h-41zM280.1,1296.3l20.5,-38h-41zM276.4,1290.1l20.5,-38h-41zM281.5,1284l20.5,-38h-41zM277.8,1277.8l20.5,-38h-41zM282.8,1271.7l20.5,-38h-41zM279.1,1265.5l20.5,-38h-41zM284.1,1259.3l20.5,-38h-41zM280.2,1253.1l20.5,-38h-41zM285.2,1247l20.5,-38h-41zM281.3,1240.8l20.5,-38h-41zM286.3,1234.6l20.5,-38h-41zM282.4,1228.4l20.5,-38h-41zM287.3,1222.3l20.5,-38h-41zM283.3,1216.1l20.5,-38h-41zM288.2,1209.9l20.5,-38h-41zM284.3,1203.7l20.5,-38h-41zM289.1,1197.5l20.5,-38h-41zM285.1,1191.3l20.5,-38h-41zM290,1185.2l20.5,-38h-41zM286,1179l20.5,-38h-41zM290.8,1172.8l20.5,-38h-41zM286.9,1166.6l20.5,-38h-41zM291.7,1160.4l20.5,-38h-41zM287.7,1154.2l20.5,-38h-41zM292.5,1148l20.5,-38h-41zM288.6,1141.9l20.5,-38h-41zM293.4,1135.7l20.5,-38h-41zM289.5,1129.5l20.5,-38h-41zM294.4,1123.3l20.5,-38h-41zM290.4,1117.1l20.5,-38h-41zM295.3,1110.9l20.5,-38h-41zM291.4,1104.8l20.5,-38h-41zM296.3,1098.6l20.5,-38h-41zM292.4,1092.4l20.5,-38h-41zM297.3,1086.2l20.5,-38h-41zM293.4,1080l20.5,-38h-41zM298.3,1073.9l20.5,-38h-41zM294.4,1067.7l20.5,-38h-41zM299.3,1061.5l20.5,-38h-41zM295.4,1055.3l20.5,-38h-41zM300.3,1049.1l20.5,-38h-41zM296.4,1043l20.5,-38h-41zM301.3,1036.8l20.5,-38h-41zM297.4,1030.6l20.5,-38h-41zM302.3,1024.4l20.5,-38h-41zM298.4,1018.2l20.5,-38h-41zM303.3,1012.1l20.5,-38h-41zM299.3,1005.9l20.5,-38h-41zM304.2,999.7l20.5,-38h-41zM300.3,993.5l20.5,-38h-41zM305.2,987.3l20.5,-38h-41zM301.2,981.2l20.5,-38h-41zM306.1,975l20.5,-38h-41zM302.2,968.8l20.5,-38h-41zM307.1,962.6l20.5,-38h-41zM303.2,956.4l20.5,-38h-41zM308.1,950.3l20.5,-38h-41zM304.2,944.1l20.5,-38h-41zM309.1,937.9l20.5,-38h-41zM305.3,931.7l20.5,-38h-41zM310.2,925.5l20.5,-38h-41zM306.3,919.4l20.5,-38h-41zM311.3,913.2l20.5,-38h-41zM307.5,907l20.5,-38h-41zM312.4,900.8l20.5,-38h-41zM308.6,894.7l20.5,-38h-41zM313.6,888.5l20.5,-38h-41zM309.8,882.3l20.5,-38h-41zM314.8,876.2l20.5,-38h-41zM311,870l20.5,-38h-41zM316.1,863.8l20.5,-38h-41zM312.4,857.7l20.5,-38h-41zM317.5,851.5l20.5,-38h-41zM313.8,845.3l20.5,-38h-41zM319,839.2l20.5,-38h-41zM315.5,833.1l20.5,-38h-41zM320.9,826.9l20.5,-38h-41zM317.5,820.8l20.5,-38h-41zM322.8,814.7l20.5,-38h-41zM319.4,808.6l20.5,-38h-41zM324.6,802.4l20.5,-38h-41zM321.1,796.3l20.5,-38h-41zM326.2,790.1l20.5,-38h-41zM322.6,784l20.5,-38h-41zM327.8,777.8l20.5,-38h-41zM324.1,771.7l20.5,-38h-41zM329.3,765.5l20.5,-38h-41zM325.7,759.4l20.5,-38h-41zM331,753.2l20.5,-38h-41zM327.5,747.1l20.5,-38h-41zM333,741l20.5,-38h-41zM329.8,734.9l20.5,-38h-41zM335.5,728.9l20.5,-38h-41zM332.5,722.8l20.5,-38h-41zM338.2,716.7l20.5,-38h-41zM334.9,710.7l20.5,-38h-41zM340.3,704.5l20.5,-38h-41zM336.7,698.4l20.5,-38h-41zM341.8,692.2l20.5,-38h-41zM338,686.1l20.5,-38h-41zM343,679.9l20.5,-38h-41zM339.3,673.7l20.5,-38h-41zM344.6,667.6l20.5,-38h-41zM341.3,661.5l20.5,-38h-41zM347.2,655.5l20.5,-38h-41zM344.4,649.5l20.5,-38h-41zM350.5,643.5l20.5,-38h-41zM347.9,637.6l20.5,-38h-41zM354,631.6l20.5,-38h-41zM351.2,625.7l20.5,-38h-41zM357,619.6l20.5,-38h-41zM353.5,613.5l20.5,-38h-41zM358.6,607.3l20.5,-38h-41zM354.9,601.1l20.5,-38h-41zM359.8,595l20.5,-38h-41zM356.1,588.8l20.5,-38h-41zM361.7,582.7l20.5,-38h-41zM359.2,576.8l20.5,-38h-41zM365.8,571l20.5,-38h-41zM364.2,565.5l20.5,-38h-41zM371.5,560l20.5,-38h-41zM369.9,554.5l20.5,-38h-41zM377.1,549l20.5,-38h-41zM375.1,543.2l20.5,-38h-41zM381.5,537.4l20.5,-38h-41zM380.1,532l20.5,-38h-41zM389,527.7l20.5,-38h-41zM389.1,523.4l20.5,-38h-41zM397.3,518.6l20.5,-38h-41zM396.6,513.6l20.5,-38h-41zM404.5,508.5l20.5,-38h-41zM404.6,503.4l20.5,-38h-41zM411.2,495.2l20.5,-38h-41zM414.9,487l20.5,-38h-41zM423.3,482.9l20.5,-38h-41zM439.6,474.7l20.5,-38h-41zM452,470.6l20.5,-38h-41zM473.7,466.5l20.5,-38h-41zM489.9,462.4l20.5,-38h-41zM510.8,458.3l20.5,-38h-41zM531.7,454.2l20.5,-38h-41zM552.6,450.1l20.5,-38h-41zM573.2,446l20.5,-38h-41zM593.6,446l20.5,-38h-41zM614.5,441.9l20.5,-38h-41zM639.8,441.9l20.5,-38h-41zM660.2,437.8l20.5,-38h-41zM685.1,437.8l20.5,-38h-41zM705.7,437.8l20.5,-38h-41zM730.5,433.7l20.5,-38h-41zM756,433.7l20.5,-38h-41zM780.8,433.7l20.5,-38h-41zM805.6,433.7l20.5,-38h-41zM830.4,433.7l20.5,-38h-41zM855.3,433.7l20.5,-38h-41zM884.5,433.7l20.5,-38h-41zM909.4,433.7l20.5,-38h-41zM938.2,433.7l20.5,-38h-41zM967.7,437.8l20.5,-38h-41zM1000.9,441.9l20.5,-38h-41zM1038.2,446l20.5,-38h-41zM1075.1,454.2l20.5,-38h-41zM1117.3,462.4l20.5,-38h-41z" fill="#37AD6B" stroke="none"/>
<path d="M269.9,1368L271.4,1366.6L272.9,1365L274.1,1363.5L275,1361.8L275.6,1360.1L276.1,1358.2L276.5,1356.3L276.9,1354.3L277.2,1352.3L277.5,1350.3L277.8,1348.2L278.1,1346.2L278.4,1344.1L278.8,1342.1L279.2,1340.1L279.6,1338.1L280,1336.2L280.4,1334.2L280.8,1332.3L281.2,1330.3L281.6,1328.3L282,1326.4L282.4,1324.4L282.8,1322.4L283.1,1320.4L283.5,1318.5L283.8,1316.5L284.1,1314.5L284.4,1312.5L284.7,1310.5L285,1308.5L285.3,1306.6L285.6,1304.6L285.9,1302.6L286.2,1300.6L286.5,1298.6L286.8,1296.6L287.1,1294.6L287.3,1292.7L287.6,1290.7L287.9,1288.7L288.2,1286.7L288.4,1284.7L288.7,1282.7L289,1280.7L289.2,1278.7L289.5,1276.7L289.8,1274.7L290,1272.8L290.3,1270.8L290.5,1268.8L290.7,1266.8L291,1264.8L291.2,1262.8L291.4,1260.8L291.6,1258.8L291.8,1256.8L292,1254.8L292.2,1252.8L292.4,1250.8L292.6,1248.8L292.8,1246.8L293,1244.8L293.2,1242.8L293.4,1240.8L293.5,1238.8L293.7,1236.8L293.9,1234.8L294.1,1232.8L294.2,1230.8L294.4,1228.8L294.6,1226.8L294.7,1224.8L294.9,1222.8L295.1,1220.8L295.2,1218.8L295.4,1216.8L295.6,1214.8L295.7,1212.8L295.9,1210.8L296.1,1208.8L296.3,1206.8L296.5,1204.8L296.6,1202.8L296.8,1200.8L297,1198.8L297.2,1196.8L297.4,1194.8L297.6,1192.8L297.8,1190.8L298,1188.8L298.2,1186.8L298.4,1184.8L298.6,1182.8L298.8,1180.8L299,1178.8L299.2,1176.8L299.4,1174.9L299.5,1172.9L299.7,1170.9L299.9,1168.9L300.1,1166.9L300.2,1164.9L300.4,1162.9L300.6,1160.9L300.7,1158.9L300.9,1156.9L301,1154.9L301.1,1152.8L301.3,1150.8L301.4,1148.8L301.5,1146.8L301.6,1144.8L301.7,1142.8L301.9,1140.8L302,1138.8L302.1,1136.8L302.2,1134.8L302.3,1132.8L302.4,1130.8L302.5,1128.8L302.6,1126.8L302.7,1124.8L302.8,1122.8L303,1120.8L303.1,1118.8L303.2,1116.8L303.3,1114.8L303.4,1112.8L303.5,1110.8L303.6,1108.8L303.7,1106.8L303.8,1104.8L303.9,1102.7L304.1,1100.7L304.2,1098.7L304.3,1096.7L304.4,1094.7L304.5,1092.7L304.6,1090.7L304.7,1088.7L304.8,1086.7L304.9,1084.7L305,1082.7L305.1,1080.7L305.2,1078.7L305.3,1076.7L305.4,1074.7L305.5,1072.7L305.7,1070.7L305.8,1068.7L305.9,1066.7L306,1064.7L306.1,1062.7L306.2,1060.7L306.3,1058.7L306.4,1056.6L306.5,1054.6L306.6,1052.6L306.7,1050.6L306.9,1048.6L307,1046.6L307.1,1044.6L307.2,1042.6L307.3,1040.6L307.4,1038.6L307.5,1036.6L307.7,1034.6L307.8,1032.6L307.9,1030.6L308,1028.6L308.2,1026.6L308.3,1024.6L308.4,1022.6L308.5,1020.6L308.7,1018.6L308.8,1016.6L308.9,1014.6L309.1,1012.6L309.2,1010.6L309.4,1008.6L309.5,1006.6L309.6,1004.6L309.8,1002.6L309.9,1000.5L310,998.5L310.1,996.5L310.3,994.5L310.4,992.5L310.5,990.5L310.6,988.5L310.8,986.5L310.9,984.5L311,982.5L311.1,980.5L311.2,978.5L311.3,976.5L311.4,974.5L311.5,972.5L311.6,970.5L311.6,968.5L311.7,966.5L311.8,964.5L311.8,962.5L311.9,960.5L312,958.4L312,956.4L312.1,954.4L312.1,952.4L312.2,950.4L312.2,948.4L312.2,946.4L312.3,944.4L312.3,942.4L312.4,940.4L312.4,938.3L312.5,936.3L312.5,934.3L312.6,932.3L312.6,930.3L312.7,928.3L312.7,926.3L312.8,924.3L312.9,922.3L312.9,920.3L313,918.3L313.1,916.3L313.2,914.3L313.3,912.3L313.4,910.3L313.5,908.3L313.6,906.3L313.8,904.3L314,902.3L314.3,900.3L314.7,898.3L315,896.4L315.4,894.4L315.7,892.4L316,890.4L316.2,888.4L316.4,886.4L316.6,884.4L316.7,882.4L316.9,880.4L317.1,878.4L317.3,876.4L317.4,874.4L317.6,872.4L317.7,870.4L317.9,868.4L318,866.4L318.2,864.4L318.3,862.4L318.4,860.4L318.6,858.4L318.7,856.4L318.8,854.4L318.9,852.4L319.1,850.4L319.2,848.4L319.3,846.4L319.4,844.4L319.6,842.4L319.7,840.4L319.8,838.4L319.9,836.4L320.1,834.4L320.2,832.4L320.3,830.4L320.4,828.4L320.6,826.3L320.7,824.3L320.8,822.3L320.9,820.3L321,818.3L321.1,816.3L321.3,814.3L321.4,812.3L321.5,810.3L321.6,808.3L321.7,806.3L321.8,804.3L321.9,802.3L322,800.3L322.1,798.3L322.2,796.3L322.4,794.3L322.5,792.3L322.6,790.3L322.7,788.3L322.8,786.3L322.9,784.3L323,782.3L323.2,780.3L323.3,778.2L323.4,776.2L323.5,774.2L323.6,772.2L323.7,770.2L323.9,768.2L324,766.2L324.1,764.2L324.2,762.2L324.3,760.2L324.4,758.2L324.5,756.2L324.7,754.2L324.8,752.2L324.9,750.2L325,748.2L325.1,746.2L325.2,744.2L325.4,742.2L325.5,740.2L325.6,738.2L325.8,736.2L325.9,734.2L326,732.2L326.2,730.2L326.3,728.1L326.4,726.1L326.6,724.1L326.7,722.1L326.9,720.1L327,718.1L327.2,716.1L327.4,714.2L327.5,712.2L327.7,710.2L327.9,708.2L328.1,706.2L328.3,704.2L328.5,702.2L328.7,700.2L328.9,698.2L329.1,696.2L329.3,694.2L329.6,692.2L329.8,690.2L330,688.2L330.3,686.2L330.5,684.2L330.8,682.2L331,680.2L331.3,678.2L331.5,676.2L331.8,674.3L332,672.3L332.3,670.3L332.5,668.3L332.8,666.3L333.1,664.3L333.3,662.3L333.6,660.3L333.9,658.3L334.1,656.3L334.4,654.3L334.7,652.4L334.9,650.4L335.2,648.4L335.5,646.4L335.7,644.4L336,642.4L336.3,640.4L336.5,638.4L336.8,636.4L337.1,634.5L337.4,632.5L337.7,630.5L338,628.5L338.3,626.5L338.5,624.5L338.8,622.5L339.1,620.6L339.4,618.6L339.7,616.6L340,614.6L340.3,612.6L340.6,610.6L340.9,608.6L341.2,606.7L341.5,604.7L341.8,602.7L342,600.7L342.3,598.7L342.6,596.7L342.8,594.7L343.1,592.7L343.3,590.7L343.6,588.7L343.8,586.7L344.1,584.8L344.3,582.8L344.6,580.8L344.8,578.8L345.1,576.8L345.3,574.8L345.6,572.8L345.9,570.8L346.2,568.8L346.5,566.8L346.8,564.9L347.1,562.9L347.4,560.9L347.8,558.9L348.1,557L348.5,555L348.9,553L349.3,551.1L349.8,549.1L350.2,547.2L350.6,545.2L351.1,543.2L351.5,541.3L352,539.3L352.5,537.4L352.9,535.4L353.4,533.5L353.8,531.5L354.3,529.5L354.7,527.6L355.1,525.6L355.6,523.7L356,521.7L356.4,519.7L356.8,517.8L357.1,515.8L357.5,513.8L357.9,511.8L358.3,509.9L358.7,507.9L359.1,505.9L359.4,504L359.8,502L360.2,500L360.6,498L360.9,496.1L361.3,494.1L361.7,492.1L362,490.2L362.4,488.2L362.8,486.2L363.1,484.2L363.5,482.3L363.9,480.3L364.2,478.3L364.5,476.3L364.8,474.3L365.2,472.3L365.5,470.3L365.9,468.4L366.2,466.4L366.6,464.4L367,462.5L367.5,460.5L368,458.6L368.5,456.7L369.1,454.8L369.7,452.8L370.3,450.9L371,449L371.7,447.1L372.5,445.2L373.2,443.4L374,441.5L374.8,439.7L375.6,437.9L376.4,436.1L377.3,434.3L378.2,432.5L379.1,430.7L380.1,428.9L381.1,427.2L382.2,425.4L383.2,423.7L384.3,422L385.4,420.3L386.5,418.6L387.6,417L388.8,415.3L389.9,413.7L391.1,412.1L392.3,410.5L393.6,409L394.8,407.4L396.1,405.9L397.5,404.3L398.8,402.8L400.1,401.3L401.5,399.8L402.8,398.3L404.2,396.9L405.6,395.4L406.9,393.9L408.3,392.5L409.7,391L411.1,389.6L412.5,388.1L414,386.7L415.4,385.3L416.8,383.9L418.3,382.5L419.8,381.1L421.2,379.8L422.7,378.4L424.2,377.1L425.7,375.8L427.3,374.5L428.8,373.2L430.4,372L431.9,370.7L433.5,369.5L435.1,368.3L436.7,367.1L438.4,365.9L440,364.8L441.7,363.6L443.3,362.5L445,361.4L446.7,360.3L448.4,359.2L464.2,349.1L480.9,340.6L502.5,332.1L523,324.1L539.7,317.4L559.8,312L581,302.9L606.3,299L627.5,292.3L651.9,286.6L672.8,282.3L697.5,278.2L722.3,271.5L747.1,267.3L772.3,263.4L797,259.5L822.4,257.2L847.4,253L876.3,249L904.8,246.5L934.2,245L963.6,242.5L992.7,241.1L1021.6,238.6L1054.9,235.9L1088.2,236.4L1121.5,234.1L1154.8,231.8L1191.6,232.1L1229.1,232.1L1271.1,232.1L1312.4,232.1L1357.9,232.1L1403.8,234.5L1449.7,236L1499.5,239.9L1552.8,246.2L1607,252.8L1661.3,261.5L1715.3,269.5" fill="none" stroke="#AF77DD" stroke-width="9.5"/>
<path d="M268.9,1346l21,22l-21,22l-21,-22zM273.4,1343.6l21,22l-21,22l-21,-22zM273.5,1340.8l21,22l-21,22l-21,-22zM276.7,1337.5l21,22l-21,22l-21,-22zM275.5,1334.1l21,22l-21,22l-21,-22zM278.2,1330.7l21,22l-21,22l-21,-22zM276.7,1327.2l21,22l-21,22l-21,-22zM279.2,1323.7l21,22l-21,22l-21,-22zM277.8,1320.3l21,22l-21,22l-21,-22zM280.4,1316.8l21,22l-21,22l-21,-22zM279.1,1313.4l21,22l-21,22l-21,-22zM281.9,1310l21,22l-21,22l-21,-22zM280.6,1306.6l21,22l-21,22l-21,-22zM283.2,1303.1l21,22l-21,22l-21,-22zM281.9,1299.7l21,22l-21,22l-21,-22zM284.5,1296.2l21,22l-21,22l-21,-22zM283.1,1292.8l21,22l-21,22l-21,-22zM285.6,1289.3l21,22l-21,22l-21,-22zM284.2,1285.9l21,22l-21,22l-21,-22zM286.7,1282.4l21,22l-21,22l-21,-22zM285.2,1278.9l21,22l-21,22l-21,-22zM287.7,1275.5l21,22l-21,22l-21,-22zM286.2,1272l21,22l-21,22l-21,-22zM288.6,1268.6l21,22l-21,22l-21,-22zM285.9,1265.1l21,22l-21,22l-21,-22zM291.2,1258.9l21,22l-21,22l-21,-22zM287.6,1252.8l21,22l-21,22l-21,-22zM292.7,1246.6l21,22l-21,22l-21,-22zM289,1240.5l21,22l-21,22l-21,-22zM294.1,1234.3l21,22l-21,22l-21,-22zM290.3,1228.1l21,22l-21,22l-21,-22zM295.3,1222l21,22l-21,22l-21,-22zM291.4,1215.8l21,22l-21,22l-21,-22zM296.4,1209.6l21,22l-21,22l-21,-22zM292.5,1203.4l21,22l-21,22l-21,-22zM297.4,1197.3l21,22l-21,22l-21,-22zM293.5,1191.1l21,22l-21,22l-21,-22zM298.5,1184.9l21,22l-21,22l-21,-22zM294.6,1178.7l21,22l-21,22l-21,-22zM299.6,1172.6l21,22l-21,22l-21,-22zM295.8,1166.4l21,22l-21,22l-21,-22zM300.8,1160.2l21,22l-21,22l-21,-22zM297,1154.1l21,22l-21,22l-21,-22zM302,1147.9l21,22l-21,22l-21,-22zM298.1,1141.7l21,22l-21,22l-21,-22zM303,1135.5l21,22l-21,22l-21,-22zM299,1129.3l21,22l-21,22l-21,-22zM303.8,1123.1l21,22l-21,22l-21,-22zM299.8,1117l21,22l-21,22l-21,-22zM304.5,1110.8l21,22l-21,22l-21,-22zM300.4,1104.6l21,22l-21,22l-21,-22zM305.2,1098.4l21,22l-21,22l-21,-22zM301.1,1092.2l21,22l-21,22l-21,-22zM305.9,1086l21,22l-21,22l-21,-22zM301.8,1079.8l21,22l-21,22l-21,-22zM306.5,1073.6l21,22l-21,22l-21,-22zM302.5,1067.4l21,22l-21,22l-21,-22zM307.2,1061.2l21,22l-21,22l-21,-22zM303.1,1055l21,22l-21,22l-21,-22zM307.8,1048.9l21,22l-21,22l-21,-22zM303.8,1042.7l21,22l-21,22l-21,-22zM308.5,1036.5l21,22l-21,22l-21,-22zM304.5,1030.3l21,22l-21,22l-21,-22zM309.2,1024.1l21,22l-21,22l-21,-22zM305.1,1017.9l21,22l-21,22l-21,-22zM309.9,1011.7l21,22l-21,22l-21,-22zM305.9,1005.5l21,22l-21,22l-21,-22zM310.7,999.3l21,22l-21,22l-21,-22zM306.7,993.2l21,22l-21,22l-21,-22zM311.5,987l21,22l-21,22l-21,-22zM307.5,980.8l21,22l-21,22l-21,-22zM312.3,974.6l21,22l-21,22l-21,-22zM308.3,968.4l21,22l-21,22l-21,-22zM313.1,962.2l21,22l-21,22l-21,-22zM309,956l21,22l-21,22l-21,-22zM313.7,949.8l21,22l-21,22l-21,-22zM309.5,943.6l21,22l-21,22l-21,-22zM314.1,937.4l21,22l-21,22l-21,-22zM309.9,931.2l21,22l-21,22l-21,-22zM314.4,925l21,22l-21,22l-21,-22zM310.2,918.8l21,22l-21,22l-21,-22zM314.7,912.6l21,22l-21,22l-21,-22zM310.5,906.4l21,22l-21,22l-21,-22zM315.1,900.2l21,22l-21,22l-21,-22zM310.9,894.1l21,22l-21,22l-21,-22zM315.6,887.9l21,22l-21,22l-21,-22zM311.7,881.7l21,22l-21,22l-21,-22zM317,875.6l21,22l-21,22l-21,-22zM313.6,869.4l21,22l-21,22l-21,-22zM318.7,863.3l21,22l-21,22l-21,-22zM314.8,857.1l21,22l-21,22l-21,-22zM319.7,850.9l21,22l-21,22l-21,-22zM315.8,844.7l21,22l-21,22l-21,-22zM320.6,838.6l21,22l-21,22l-21,-22zM316.6,832.4l21,22l-21,22l-21,-22zM321.4,826.2l21,22l-21,22l-21,-22zM317.4,820l21,22l-21,22l-21,-22zM322.2,813.8l21,22l-21,22l-21,-22zM318.2,807.6l21,22l-21,22l-21,-22zM322.9,801.4l21,22l-21,22l-21,-22zM318.9,795.2l21,22l-21,22l-21,-22zM323.6,789l21,22l-21,22l-21,-22zM319.6,782.9l21,22l-21,22l-21,-22zM324.3,776.7l21,22l-21,22l-21,-22zM320.3,770.5l21,22l-21,22l-21,-22zM325,764.3l21,22l-21,22l-21,-22zM321,758.1l21,22l-21,22l-21,-22zM325.7,751.9l21,22l-21,22l-21,-22zM321.7,745.7l21,22l-21,22l-21,-22zM326.4,739.5l21,22l-21,22l-21,-22zM322.4,733.3l21,22l-21,22l-21,-22zM327.1,727.1l21,22l-21,22l-21,-22zM323.1,721l21,22l-21,22l-21,-22zM327.9,714.8l21,22l-21,22l-21,-22zM323.9,708.6l21,22l-21,22l-21,-22zM328.8,702.4l21,22l-21,22l-21,-22zM324.8,696.2l21,22l-21,22l-21,-22zM329.8,690l21,22l-21,22l-21,-22zM325.9,683.9l21,22l-21,22l-21,-22zM330.9,677.7l21,22l-21,22l-21,-22zM327.2,671.5l21,22l-21,22l-21,-22zM332.3,665.4l21,22l-21,22l-21,-22zM328.7,659.2l21,22l-21,22l-21,-22zM333.9,653.1l21,22l-21,22l-21,-22zM330.3,646.9l21,22l-21,22l-21,-22zM335.5,640.8l21,22l-21,22l-21,-22zM331.9,634.6l21,22l-21,22l-21,-22zM337.1,628.5l21,22l-21,22l-21,-22zM333.6,622.3l21,22l-21,22l-21,-22zM338.8,616.2l21,22l-21,22l-21,-22zM335.2,610.1l21,22l-21,22l-21,-22zM340.5,603.9l21,22l-21,22l-21,-22zM337.1,597.8l21,22l-21,22l-21,-22zM342.4,591.7l21,22l-21,22l-21,-22zM338.9,585.5l21,22l-21,22l-21,-22zM344.1,579.4l21,22l-21,22l-21,-22zM340.6,573.2l21,22l-21,22l-21,-22zM345.7,567.1l21,22l-21,22l-21,-22zM342.1,560.9l21,22l-21,22l-21,-22zM347.3,554.8l21,22l-21,22l-21,-22zM343.7,548.6l21,22l-21,22l-21,-22zM349,542.5l21,22l-21,22l-21,-22zM345.7,536.4l21,22l-21,22l-21,-22zM351.3,530.3l21,22l-21,22l-21,-22zM348.2,524.3l21,22l-21,22l-21,-22zM354,518.2l21,22l-21,22l-21,-22zM351,512.2l21,22l-21,22l-21,-22zM356.8,506.1l21,22l-21,22l-21,-22zM353.7,500.1l21,22l-21,22l-21,-22zM359.3,494l21,22l-21,22l-21,-22zM356.1,487.9l21,22l-21,22l-21,-22zM361.7,481.8l21,22l-21,22l-21,-22zM358.4,475.7l21,22l-21,22l-21,-22zM364,469.6l21,22l-21,22l-21,-22zM360.7,463.5l21,22l-21,22l-21,-22zM365,457.4l21,22l-21,22l-21,-22zM364.5,448.6l21,22l-21,22l-21,-22zM368.2,439.7l21,22l-21,22l-21,-22zM368.6,431.1l21,22l-21,22l-21,-22zM373.7,422.6l21,22l-21,22l-21,-22zM375.3,414.4l21,22l-21,22l-21,-22zM381.4,406.4l21,22l-21,22l-21,-22zM384.1,398.7l21,22l-21,22l-21,-22zM391.2,391.3l21,22l-21,22l-21,-22zM394.8,384.2l21,22l-21,22l-21,-22zM402.8,377.5l21,22l-21,22l-21,-22zM406.9,370.9l21,22l-21,22l-21,-22zM415.2,364.5l21,22l-21,22l-21,-22zM419.7,358.2l21,22l-21,22l-21,-22zM428.5,352.3l21,22l-21,22l-21,-22zM433.5,346.7l21,22l-21,22l-21,-22zM448.4,337.2l21,22l-21,22l-21,-22zM464.2,327.1l21,22l-21,22l-21,-22zM480.9,318.6l21,22l-21,22l-21,-22zM502.5,310.1l21,22l-21,22l-21,-22zM523,302.1l21,22l-21,22l-21,-22zM539.7,295.4l21,22l-21,22l-21,-22zM559.8,290l21,22l-21,22l-21,-22zM581,280.9l21,22l-21,22l-21,-22zM606.3,277l21,22l-21,22l-21,-22zM627.5,270.3l21,22l-21,22l-21,-22zM651.9,264.6l21,22l-21,22l-21,-22zM672.8,260.3l21,22l-21,22l-21,-22zM697.5,256.2l21,22l-21,22l-21,-22zM722.3,249.5l21,22l-21,22l-21,-22zM747.1,245.3l21,22l-21,22l-21,-22zM772.3,241.4l21,22l-21,22l-21,-22zM797,237.5l21,22l-21,22l-21,-22zM822.4,235.2l21,22l-21,22l-21,-22zM847.4,231l21,22l-21,22l-21,-22zM876.3,227l21,22l-21,22l-21,-22zM904.8,224.5l21,22l-21,22l-21,-22zM934.2,223l21,22l-21,22l-21,-22zM963.6,220.5l21,22l-21,22l-21,-22zM992.7,219.1l21,22l-21,22l-21,-22zM1021.6,216.6l21,22l-21,22l-21,-22zM1054.9,213.9l21,22l-21,22l-21,-22zM1088.2,214.4l21,22l-21,22l-21,-22zM1121.5,212.1l21,22l-21,22l-21,-22zM1154.8,209.8l21,22l-21,22l-21,-22zM1191.6,210.1l21,22l-21,22l-21,-22zM1229.1,210.1l21,22l-21,22l-21,-22zM1271.1,210.1l21,22l-21,22l-21,-22zM1312.4,210.1l21,22l-21,22l-21,-22zM1357.9,210.1l21,22l-21,22l-21,-22zM1403.8,212.5l21,22l-21,22l-21,-22zM1449.7,214l21,22l-21,22l-21,-22zM1499.5,217.9l21,22l-21,22l-21,-22zM1552.8,224.2l21,22l-21,22l-21,-22zM1607,230.8l21,22l-21,22l-21,-22zM1661.3,239.5l21,22l-21,22l-21,-22zM1715.3,247.5l21,22l-21,22l-21,-22z" fill="#AF77DD" stroke="none"/>
</g>
<path d="M249.5,54.5H1914.5V1409.5H249.5Z" fill="none" stroke="#000" stroke-width="5" stroke-linejoin="miter"/>
<path d="M222,1367.5H249.5M222,1204.5H249.5M222,1037.5H249.5M222,874.5H249.5M222,711.0H249.5M222,547.8H249.5M222,380.4H249.5M222,217.5H249.5M222,54.5H249.5" stroke="#000" stroke-width="5"/>
<path d="M234,133.4H249.5M234,298.9H249.5M234,464.1H249.5M234,629.4H249.5M234,792.8H249.5M234,956.0H249.5M234,1121.0H249.5M234,1286.0H249.5" stroke="#000" stroke-width="5.5"/>
<path d="M269.5,1409.5V1437M490.0,1409.5V1437M710.4,1409.5V1437M926.5,1409.5V1437M1146.5,1409.5V1437M1366.5,1409.5V1437M1586.5,1409.5V1437M1802.5,1409.5V1437" stroke="#000" stroke-width="5"/>
<path d="M381.2,1409.5V1422.5M601.7,1409.5V1422.5M820.0,1409.5V1422.5M1038.0,1409.5V1422.5M1258.0,1409.5V1422.5M1478.0,1409.5V1422.5M1696.0,1409.5V1422.5M1914.5,1409.5V1422.5" stroke="#000" stroke-width="5" stroke-linecap="round"/>
<text transform="translate(203.3,1384.3) scale(0.96,1)" font-size="59.5" text-anchor="end">0</text>
<text transform="translate(203.3,1222.0) scale(0.96,1)" font-size="59.5" text-anchor="end">200</text>
<text transform="translate(203.3,1053.5) scale(0.96,1)" font-size="59.5" text-anchor="end">400</text>
<text transform="translate(203.3,890.6) scale(0.96,1)" font-size="59.5" text-anchor="end">600</text>
<text transform="translate(203.3,727.1) scale(0.96,1)" font-size="59.5" text-anchor="end">800</text>
<text transform="translate(203.2,560.3) scale(0.925,1)" font-size="59.5" text-anchor="end">1000</text>
<text transform="translate(203.2,397.4) scale(0.925,1)" font-size="59.5" text-anchor="end">1200</text>
<text transform="translate(203.2,233.3) scale(0.925,1)" font-size="59.5" text-anchor="end">1400</text>
<text transform="translate(203.2,70.5) scale(0.925,1)" font-size="59.5" text-anchor="end">1600</text>
<text transform="translate(269.7,1496.7) scale(0.965,1)" font-size="59.5" text-anchor="middle">0.00</text>
<text transform="translate(490.2,1496.7) scale(0.965,1)" font-size="59.5" text-anchor="middle">0.02</text>
<text transform="translate(710.6,1496.7) scale(0.965,1)" font-size="59.5" text-anchor="middle">0.04</text>
<text transform="translate(926.7,1496.7) scale(0.965,1)" font-size="59.5" text-anchor="middle">0.06</text>
<text transform="translate(1146.7,1496.7) scale(0.965,1)" font-size="59.5" text-anchor="middle">0.08</text>
<text transform="translate(1366.7,1496.7) scale(0.965,1)" font-size="59.5" text-anchor="middle">0.10</text>
<text transform="translate(1586.7,1496.7) scale(0.965,1)" font-size="59.5" text-anchor="middle">0.12</text>
<text transform="translate(1802.7,1496.7) scale(0.965,1)" font-size="59.5" text-anchor="middle">0.14</text>
<text transform="translate(1031.6,1569.6) scale(0.963,1)" font-size="73.5" text-anchor="middle">Strain</text>
<text transform="translate(75.3,696.5) rotate(-90) scale(0.957,1)" font-size="73" text-anchor="middle">Stress (MPa)</text>
<rect x="1400.2" y="941" width="493.2" height="442.6" fill="#fff" stroke="#000" stroke-width="4"/>
<path d="M1408,986.9H1561" stroke="#525252" stroke-width="9.5" stroke-linecap="round"/>
<rect x="1468" y="971.9" width="38" height="30" fill="#525252"/>
<text transform="translate(1578.5,1011.6) scale(0.955,1)" font-size="74" text-anchor="start">450</text>
<text transform="translate(1702.8,983.2) scale(1.05,1)" font-size="42" text-anchor="start">o</text>
<text transform="translate(1724.8,1011.6) scale(0.935,1)" font-size="74" text-anchor="start">C-3h</text>
<path d="M1408,1074.9H1561" stroke="#EE3E3E" stroke-width="9.5" stroke-linecap="round"/>
<ellipse cx="1487" cy="1074.9" rx="18.3" ry="19" fill="#EE3E3E"/>
<text transform="translate(1576.3,1099.6) scale(0.955,1)" font-size="74" text-anchor="start">500</text>
<text transform="translate(1702.8,1071.2) scale(1.05,1)" font-size="42" text-anchor="start">o</text>
<text transform="translate(1724.8,1099.6) scale(0.935,1)" font-size="74" text-anchor="start">C-3h</text>
<path d="M1408,1162.5H1561" stroke="#1B6CDE" stroke-width="9.5" stroke-linecap="round"/>
<path d="M1487,1139.1L1507.8,1173.3H1466.2Z" fill="#1B6CDE" stroke="#1B6CDE" stroke-width="1.5" stroke-linejoin="round"/>
<text transform="translate(1576.3,1183.6) scale(0.955,1)" font-size="74" text-anchor="start">550</text>
<text transform="translate(1702.8,1155.2) scale(1.05,1)" font-size="42" text-anchor="start">o</text>
<text transform="translate(1724.8,1183.6) scale(0.935,1)" font-size="74" text-anchor="start">C-3h</text>
<path d="M1408,1246.3H1561" stroke="#37AD6B" stroke-width="9.5" stroke-linecap="round"/>
<path d="M1487,1273.8999999999999L1507.8,1235.1H1466.2Z" fill="#37AD6B" stroke="#37AD6B" stroke-width="1.5" stroke-linejoin="round"/>
<text transform="translate(1576.3,1271.6) scale(0.955,1)" font-size="74" text-anchor="start">600</text>
<text transform="translate(1702.8,1243.2) scale(1.05,1)" font-size="42" text-anchor="start">o</text>
<text transform="translate(1724.8,1271.6) scale(0.935,1)" font-size="74" text-anchor="start">C-3h</text>
<path d="M1408,1334.3H1561" stroke="#AF77DD" stroke-width="9.5" stroke-linecap="round"/>
<path d="M1486.5,1314.8999999999999L1504.2,1336.3L1486.5,1358.0L1468.2,1336.3Z" fill="#AF77DD"/>
<text transform="translate(1577.6,1359.8) scale(0.948,1)" font-size="74" text-anchor="start">As SLMed</text>
</svg>
</body></html>
